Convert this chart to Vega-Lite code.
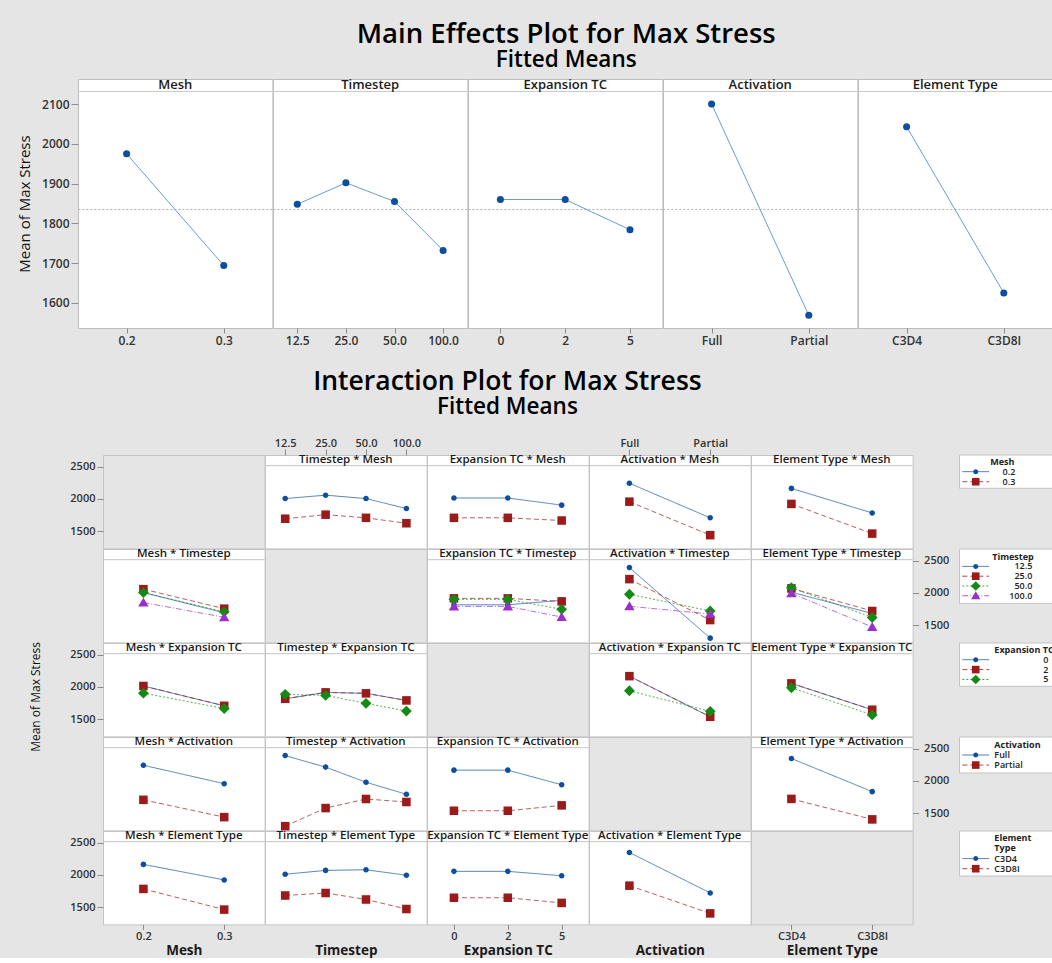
{
"$schema": "https://vega.github.io/schema/vega-lite/v6.json",
"background": "#e5e5e5",
"padding": {"left": 17, "top": 20, "right": 0, "bottom": 0},
"spacing": 21,
"columns": 1,
"align": "none",
"config": {"font": "Open Sans", "view": {"stroke": "#c4c4c4"}, "concat": {"spacing": 0}},
"datasets": {
"main": [
{"factor":"Mesh","level":"0.2","mean":1975},{"factor":"Mesh","level":"0.3","mean":1694},
{"factor":"Timestep","level":"12.5","mean":1848},{"factor":"Timestep","level":"25.0","mean":1902},{"factor":"Timestep","level":"50.0","mean":1855},{"factor":"Timestep","level":"100.0","mean":1732},
{"factor":"Expansion TC","level":"0","mean":1860},{"factor":"Expansion TC","level":"2","mean":1860},{"factor":"Expansion TC","level":"5","mean":1784},
{"factor":"Activation","level":"Full","mean":2100},{"factor":"Activation","level":"Partial","mean":1569},
{"factor":"Element Type","level":"C3D4","mean":2043},{"factor":"Element Type","level":"C3D8I","mean":1625}],
"twoway": [
{"pair":"MT","a":"0.2","b":"12.5","mean":2005},{"pair":"MT","a":"0.2","b":"25.0","mean":2058},{"pair":"MT","a":"0.2","b":"50.0","mean":2005},{"pair":"MT","a":"0.2","b":"100.0","mean":1850},
{"pair":"MT","a":"0.3","b":"12.5","mean":1692},{"pair":"MT","a":"0.3","b":"25.0","mean":1755},{"pair":"MT","a":"0.3","b":"50.0","mean":1706},{"pair":"MT","a":"0.3","b":"100.0","mean":1622},
{"pair":"ME","a":"0.2","b":"0","mean":2014},{"pair":"ME","a":"0.2","b":"2","mean":2014},{"pair":"ME","a":"0.2","b":"5","mean":1903},
{"pair":"ME","a":"0.3","b":"0","mean":1706},{"pair":"ME","a":"0.3","b":"2","mean":1706},{"pair":"ME","a":"0.3","b":"5","mean":1664},
{"pair":"MA","a":"0.2","b":"Full","mean":2243},{"pair":"MA","a":"0.2","b":"Partial","mean":1706},
{"pair":"MA","a":"0.3","b":"Full","mean":1957},{"pair":"MA","a":"0.3","b":"Partial","mean":1437},
{"pair":"MX","a":"0.2","b":"C3D4","mean":2163},{"pair":"MX","a":"0.2","b":"C3D8I","mean":1782},
{"pair":"MX","a":"0.3","b":"C3D4","mean":1922},{"pair":"MX","a":"0.3","b":"C3D8I","mean":1461},
{"pair":"TE","a":"12.5","b":"0","mean":1815},{"pair":"TE","a":"12.5","b":"2","mean":1815},{"pair":"TE","a":"12.5","b":"5","mean":1885},
{"pair":"TE","a":"25.0","b":"0","mean":1915},{"pair":"TE","a":"25.0","b":"2","mean":1915},{"pair":"TE","a":"25.0","b":"5","mean":1868},
{"pair":"TE","a":"50.0","b":"0","mean":1900},{"pair":"TE","a":"50.0","b":"2","mean":1900},{"pair":"TE","a":"50.0","b":"5","mean":1745},
{"pair":"TE","a":"100.0","b":"0","mean":1790},{"pair":"TE","a":"100.0","b":"2","mean":1790},{"pair":"TE","a":"100.0","b":"5","mean":1625},
{"pair":"TA","a":"12.5","b":"Full","mean":2393},{"pair":"TA","a":"12.5","b":"Partial","mean":1297},
{"pair":"TA","a":"25.0","b":"Full","mean":2214},{"pair":"TA","a":"25.0","b":"Partial","mean":1578},
{"pair":"TA","a":"50.0","b":"Full","mean":1979},{"pair":"TA","a":"50.0","b":"Partial","mean":1719},
{"pair":"TA","a":"100.0","b":"Full","mean":1792},{"pair":"TA","a":"100.0","b":"Partial","mean":1672},
{"pair":"TX","a":"12.5","b":"C3D4","mean":2010},{"pair":"TX","a":"12.5","b":"C3D8I","mean":1680},
{"pair":"TX","a":"25.0","b":"C3D4","mean":2070},{"pair":"TX","a":"25.0","b":"C3D8I","mean":1719},
{"pair":"TX","a":"50.0","b":"C3D4","mean":2080},{"pair":"TX","a":"50.0","b":"C3D8I","mean":1618},
{"pair":"TX","a":"100.0","b":"C3D4","mean":1995},{"pair":"TX","a":"100.0","b":"C3D8I","mean":1470},
{"pair":"EA","a":"0","b":"Full","mean":2167},{"pair":"EA","a":"0","b":"Partial","mean":1536},
{"pair":"EA","a":"2","b":"Full","mean":2167},{"pair":"EA","a":"2","b":"Partial","mean":1536},
{"pair":"EA","a":"5","b":"Full","mean":1940},{"pair":"EA","a":"5","b":"Partial","mean":1620},
{"pair":"EX","a":"0","b":"C3D4","mean":2055},{"pair":"EX","a":"0","b":"C3D8I","mean":1645},
{"pair":"EX","a":"2","b":"C3D4","mean":2055},{"pair":"EX","a":"2","b":"C3D8I","mean":1645},
{"pair":"EX","a":"5","b":"C3D4","mean":1987},{"pair":"EX","a":"5","b":"C3D8I","mean":1565},
{"pair":"AX","a":"Full","b":"C3D4","mean":2348},{"pair":"AX","a":"Full","b":"C3D8I","mean":1833},
{"pair":"AX","a":"Partial","b":"C3D4","mean":1720},{"pair":"AX","a":"Partial","b":"C3D8I","mean":1402}
]},
"concat": [
{
"title": {"text": "Main Effects Plot for Max Stress", "subtitle": "Fitted Means", "fontSize": 27.5, "fontWeight": 600, "subtitleFontSize": 22.5, "subtitleFontWeight": 600, "color": "#000", "subtitleColor": "#000", "anchor": "middle", "offset": 7, "subtitlePadding": 1, "dx": 31},
"bounds": "flush",
"hconcat": [
{"width": 194.4, "height": 249, "view": {"fill": "white", "stroke": "#bdbdbd"}, "layer": [
 {"data": {"values": [{"label": "Mesh"}]}, "layer": [
  {"mark": {"type": "rule", "color": "#c8c8c8"}, "encoding": {"y": {"datum": 2131.7, "type": "quantitative", "scale": {"domain": [1537, 2163], "nice": false, "zero": false}, "axis": {"orient": "left", "values": [1600, 1700, 1800, 1900, 2000, 2100], "format": "d", "title": "Mean of Max Stress", "titleFontSize": 15, "titleFontWeight": "normal", "titleColor": "#111", "titlePadding": 9, "labelFontSize": 12, "labelFontWeight": 600, "labelColor": "#333", "tickSize": 7, "tickColor": "#8c8c8c", "labelPadding": 2, "domain": false, "grid": false}}}},
  {"mark": {"type": "text", "fontSize": 13, "fontWeight": 600, "color": "#1a1a1a"}, "encoding": {"y": {"datum": 2147.5, "type": "quantitative", "scale": {"domain": [1537, 2163], "nice": false, "zero": false}, "axis": {"orient": "left", "values": [1600, 1700, 1800, 1900, 2000, 2100], "format": "d", "title": "Mean of Max Stress", "titleFontSize": 15, "titleFontWeight": "normal", "titleColor": "#111", "titlePadding": 9, "labelFontSize": 12, "labelFontWeight": 600, "labelColor": "#333", "tickSize": 7, "tickColor": "#8c8c8c", "labelPadding": 2, "domain": false, "grid": false}}, "text": {"field": "label"}}}]},
 {"data": {"values": [{"grand": 1835}]}, "mark": {"type": "rule", "color": "#b0b0b0", "strokeDash": [2, 2]}, "encoding": {"y": {"field": "grand", "type": "quantitative", "scale": {"domain": [1537, 2163], "nice": false, "zero": false}, "axis": {"orient": "left", "values": [1600, 1700, 1800, 1900, 2000, 2100], "format": "d", "title": "Mean of Max Stress", "titleFontSize": 15, "titleFontWeight": "normal", "titleColor": "#111", "titlePadding": 9, "labelFontSize": 12, "labelFontWeight": 600, "labelColor": "#333", "tickSize": 7, "tickColor": "#8c8c8c", "labelPadding": 2, "domain": false, "grid": false}}}},
 {"data": {"name": "main"}, "transform": [{"filter": "datum.factor === 'Mesh'"}],
  "encoding": {"x": {"field": "level", "type": "ordinal", "scale": {"type": "point", "domain": ["0.2", "0.3"], "padding": 0.5}, "axis": {"orient": "bottom", "title": null, "labelAngle": 0, "labelFontSize": 12, "labelFontWeight": 600, "labelColor": "#333", "tickSize": 5, "tickColor": "#8c8c8c", "labelPadding": 2, "domain": false, "grid": false}},
   "y": {"field": "mean", "type": "quantitative", "scale": {"domain": [1537, 2163], "nice": false, "zero": false}, "axis": {"orient": "left", "values": [1600, 1700, 1800, 1900, 2000, 2100], "format": "d", "title": "Mean of Max Stress", "titleFontSize": 15, "titleFontWeight": "normal", "titleColor": "#111", "titlePadding": 9, "labelFontSize": 12, "labelFontWeight": 600, "labelColor": "#333", "tickSize": 7, "tickColor": "#8c8c8c", "labelPadding": 2, "domain": false, "grid": false}}},
  "layer": [{"mark": {"type": "line", "color": "#6a9bd6", "strokeWidth": 1}, "encoding": {"order": {"value": null}}}, {"mark": {"type": "point", "filled": true, "color": "#0b4f9e", "size": 50, "opacity": 1}}]}
]},
{"width": 194.4, "height": 249, "view": {"fill": "white", "stroke": "#bdbdbd"}, "layer": [
 {"data": {"values": [{"label": "Timestep"}]}, "layer": [
  {"mark": {"type": "rule", "color": "#c8c8c8"}, "encoding": {"y": {"datum": 2131.7, "type": "quantitative", "scale": {"domain": [1537, 2163], "nice": false, "zero": false}, "axis": null}}},
  {"mark": {"type": "text", "fontSize": 13, "fontWeight": 600, "color": "#1a1a1a"}, "encoding": {"y": {"datum": 2147.5, "type": "quantitative", "scale": {"domain": [1537, 2163], "nice": false, "zero": false}, "axis": null}, "text": {"field": "label"}}}]},
 {"data": {"values": [{"grand": 1835}]}, "mark": {"type": "rule", "color": "#b0b0b0", "strokeDash": [2, 2]}, "encoding": {"y": {"field": "grand", "type": "quantitative", "scale": {"domain": [1537, 2163], "nice": false, "zero": false}, "axis": null}}},
 {"data": {"name": "main"}, "transform": [{"filter": "datum.factor === 'Timestep'"}],
  "encoding": {"x": {"field": "level", "type": "ordinal", "scale": {"type": "point", "domain": ["12.5", "25.0", "50.0", "100.0"], "padding": 0.5}, "axis": {"orient": "bottom", "title": null, "labelAngle": 0, "labelFontSize": 12, "labelFontWeight": 600, "labelColor": "#333", "tickSize": 5, "tickColor": "#8c8c8c", "labelPadding": 2, "domain": false, "grid": false}},
   "y": {"field": "mean", "type": "quantitative", "scale": {"domain": [1537, 2163], "nice": false, "zero": false}, "axis": null}},
  "layer": [{"mark": {"type": "line", "color": "#6a9bd6", "strokeWidth": 1}, "encoding": {"order": {"value": null}}}, {"mark": {"type": "point", "filled": true, "color": "#0b4f9e", "size": 50, "opacity": 1}}]}
]},
{"width": 194.4, "height": 249, "view": {"fill": "white", "stroke": "#bdbdbd"}, "layer": [
 {"data": {"values": [{"label": "Expansion TC"}]}, "layer": [
  {"mark": {"type": "rule", "color": "#c8c8c8"}, "encoding": {"y": {"datum": 2131.7, "type": "quantitative", "scale": {"domain": [1537, 2163], "nice": false, "zero": false}, "axis": null}}},
  {"mark": {"type": "text", "fontSize": 13, "fontWeight": 600, "color": "#1a1a1a"}, "encoding": {"y": {"datum": 2147.5, "type": "quantitative", "scale": {"domain": [1537, 2163], "nice": false, "zero": false}, "axis": null}, "text": {"field": "label"}}}]},
 {"data": {"values": [{"grand": 1835}]}, "mark": {"type": "rule", "color": "#b0b0b0", "strokeDash": [2, 2]}, "encoding": {"y": {"field": "grand", "type": "quantitative", "scale": {"domain": [1537, 2163], "nice": false, "zero": false}, "axis": null}}},
 {"data": {"name": "main"}, "transform": [{"filter": "datum.factor === 'Expansion TC'"}],
  "encoding": {"x": {"field": "level", "type": "ordinal", "scale": {"type": "point", "domain": ["0", "2", "5"], "padding": 0.5}, "axis": {"orient": "bottom", "title": null, "labelAngle": 0, "labelFontSize": 12, "labelFontWeight": 600, "labelColor": "#333", "tickSize": 5, "tickColor": "#8c8c8c", "labelPadding": 2, "domain": false, "grid": false}},
   "y": {"field": "mean", "type": "quantitative", "scale": {"domain": [1537, 2163], "nice": false, "zero": false}, "axis": null}},
  "layer": [{"mark": {"type": "line", "color": "#6a9bd6", "strokeWidth": 1}, "encoding": {"order": {"value": null}}}, {"mark": {"type": "point", "filled": true, "color": "#0b4f9e", "size": 50, "opacity": 1}}]}
]},
{"width": 194.4, "height": 249, "view": {"fill": "white", "stroke": "#bdbdbd"}, "layer": [
 {"data": {"values": [{"label": "Activation"}]}, "layer": [
  {"mark": {"type": "rule", "color": "#c8c8c8"}, "encoding": {"y": {"datum": 2131.7, "type": "quantitative", "scale": {"domain": [1537, 2163], "nice": false, "zero": false}, "axis": null}}},
  {"mark": {"type": "text", "fontSize": 13, "fontWeight": 600, "color": "#1a1a1a"}, "encoding": {"y": {"datum": 2147.5, "type": "quantitative", "scale": {"domain": [1537, 2163], "nice": false, "zero": false}, "axis": null}, "text": {"field": "label"}}}]},
 {"data": {"values": [{"grand": 1835}]}, "mark": {"type": "rule", "color": "#b0b0b0", "strokeDash": [2, 2]}, "encoding": {"y": {"field": "grand", "type": "quantitative", "scale": {"domain": [1537, 2163], "nice": false, "zero": false}, "axis": null}}},
 {"data": {"name": "main"}, "transform": [{"filter": "datum.factor === 'Activation'"}],
  "encoding": {"x": {"field": "level", "type": "ordinal", "scale": {"type": "point", "domain": ["Full", "Partial"], "padding": 0.5}, "axis": {"orient": "bottom", "title": null, "labelAngle": 0, "labelFontSize": 12, "labelFontWeight": 600, "labelColor": "#333", "tickSize": 5, "tickColor": "#8c8c8c", "labelPadding": 2, "domain": false, "grid": false}},
   "y": {"field": "mean", "type": "quantitative", "scale": {"domain": [1537, 2163], "nice": false, "zero": false}, "axis": null}},
  "layer": [{"mark": {"type": "line", "color": "#6a9bd6", "strokeWidth": 1}, "encoding": {"order": {"value": null}}}, {"mark": {"type": "point", "filled": true, "color": "#0b4f9e", "size": 50, "opacity": 1}}]}
]},
{"width": 194.4, "height": 249, "view": {"fill": "white", "stroke": "#bdbdbd"}, "layer": [
 {"data": {"values": [{"label": "Element Type"}]}, "layer": [
  {"mark": {"type": "rule", "color": "#c8c8c8"}, "encoding": {"y": {"datum": 2131.7, "type": "quantitative", "scale": {"domain": [1537, 2163], "nice": false, "zero": false}, "axis": null}}},
  {"mark": {"type": "text", "fontSize": 13, "fontWeight": 600, "color": "#1a1a1a"}, "encoding": {"y": {"datum": 2147.5, "type": "quantitative", "scale": {"domain": [1537, 2163], "nice": false, "zero": false}, "axis": null}, "text": {"field": "label"}}}]},
 {"data": {"values": [{"grand": 1835}]}, "mark": {"type": "rule", "color": "#b0b0b0", "strokeDash": [2, 2]}, "encoding": {"y": {"field": "grand", "type": "quantitative", "scale": {"domain": [1537, 2163], "nice": false, "zero": false}, "axis": null}}},
 {"data": {"name": "main"}, "transform": [{"filter": "datum.factor === 'Element Type'"}],
  "encoding": {"x": {"field": "level", "type": "ordinal", "scale": {"type": "point", "domain": ["C3D4", "C3D8I"], "padding": 0.5}, "axis": {"orient": "bottom", "title": null, "labelAngle": 0, "labelFontSize": 12, "labelFontWeight": 600, "labelColor": "#333", "tickSize": 5, "tickColor": "#8c8c8c", "labelPadding": 2, "domain": false, "grid": false}},
   "y": {"field": "mean", "type": "quantitative", "scale": {"domain": [1537, 2163], "nice": false, "zero": false}, "axis": null}},
  "layer": [{"mark": {"type": "line", "color": "#6a9bd6", "strokeWidth": 1}, "encoding": {"order": {"value": null}}}, {"mark": {"type": "point", "filled": true, "color": "#0b4f9e", "size": 50, "opacity": 1}}]}
]}
]
},
{
"title": {"text": "Interaction Plot for Max Stress", "subtitle": "Fitted Means", "fontSize": 26.5, "fontWeight": 600, "subtitleFontSize": 22.5, "subtitleFontWeight": 600, "color": "#000", "subtitleColor": "#000", "anchor": "middle", "offset": 18, "subtitlePadding": 1, "dx": -35},
"vconcat": [
{
"title": {"text": "Mean of Max Stress", "orient": "left", "fontSize": 12, "fontWeight": "normal", "color": "#111", "anchor": "middle", "offset": 26},
"columns": 7,
"align": "each",
"bounds": "flush",
"spacing": 0,
"concat": [
{"width": 24.7, "height": 1, "data": {"values": []}, "mark": {"type": "point", "opacity": 0}, "view": {"stroke": null}},
{"width": 161.6, "height": 93.4, "view": {"fill": "#e5e5e5", "stroke": "#c4c4c4"}, "data": {"values": []}, "mark": {"type": "point", "opacity": 0}, "encoding": {"y": {"field": "mean", "type": "quantitative", "scale": {"domain": [1231, 2682], "nice": false, "zero": false}, "axis": {"orient": "left", "values": [1500, 2000, 2500], "format": "d", "title": null, "labelFontSize": 11, "labelFontWeight": 600, "labelColor": "#333", "tickSize": 6, "tickColor": "#8c8c8c", "labelPadding": 2, "domain": false, "grid": false}}}},
{"width": 161.6, "height": 93.4, "view": {"fill": "white", "stroke": "#c4c4c4"}, "layer": [
 {"data": {"values": [{"label": "Timestep * Mesh"}]}, "layer": [
  {"mark": {"type": "rule", "color": "#c4c4c4"}, "encoding": {"y": {"datum": 2516, "type": "quantitative", "scale": {"domain": [1231, 2682], "nice": false, "zero": false}, "axis": null}}},
  {"mark": {"type": "text", "fontSize": 11.5, "fontWeight": 600, "color": "#1a1a1a"}, "encoding": {"y": {"datum": 2599, "type": "quantitative", "scale": {"domain": [1231, 2682], "nice": false, "zero": false}, "axis": null}, "text": {"field": "label"}}}]},
 {"data": {"name": "twoway"}, "transform": [{"filter": "datum.pair === 'MT'"}],
  "encoding": {"x": {"field": "b", "type": "ordinal", "scale": {"type": "point", "domain": ["12.5", "25.0", "50.0", "100.0"], "padding": 0.5}, "axis": {"orient": "top", "title": null, "labelAngle": 0, "labelFontSize": 11, "labelFontWeight": 600, "labelColor": "#333", "tickSize": 6, "tickColor": "#8c8c8c", "labelPadding": 1, "domain": false, "grid": false}},
   "y": {"field": "mean", "type": "quantitative", "scale": {"domain": [1231, 2682], "nice": false, "zero": false}, "axis": null},
   "color": {"field": "a", "type": "nominal", "legend": null, "scale": {"domain": ["0.2","0.3","12.5","25.0","50.0","100.0","0","2","5","Full","Partial","C3D4","C3D8I"], "range": ["#0b4f9e","#9b1b1b","#0b4f9e","#9b1b1b","#138a13","#9b30c8","#0b4f9e","#9b1b1b","#138a13","#0b4f9e","#9b1b1b","#0b4f9e","#9b1b1b"]}}},
  "layer": [
   {"mark": {"type": "line", "strokeWidth": 1, "opacity": 0.7}, "encoding": {"strokeDash": {"field": "a", "type": "nominal", "legend": null, "scale": {"domain": ["0.2","0.3","12.5","25.0","50.0","100.0","0","2","5","Full","Partial","C3D4","C3D8I"], "range": [[1,0],[5,3],[1,0],[5,3],[2,2],[6,2,1,2],[1,0],[5,3],[2,2],[1,0],[5,3],[1,0],[5,3]]}}, "order": {"value": null}}},
   {"mark": {"type": "point", "filled": true, "size": 81, "opacity": 1}, "encoding": {"shape": {"field": "a", "type": "nominal", "legend": null, "scale": {"domain": ["0.2","0.3","12.5","25.0","50.0","100.0","0","2","5","Full","Partial","C3D4","C3D8I"], "range": ["M0.62,0A0.62,0.62 0 1,1 -0.62,0A0.62,0.62 0 1,1 0.62,0Z","M-0.95,-0.95H0.95V0.95H-0.95Z","M0.62,0A0.62,0.62 0 1,1 -0.62,0A0.62,0.62 0 1,1 0.62,0Z","M-0.95,-0.95H0.95V0.95H-0.95Z","M0,-1.2L1.2,0L0,1.2L-1.2,0Z","M0,-1.1L1.15,0.9H-1.15Z","M0.62,0A0.62,0.62 0 1,1 -0.62,0A0.62,0.62 0 1,1 0.62,0Z","M-0.95,-0.95H0.95V0.95H-0.95Z","M0,-1.2L1.2,0L0,1.2L-1.2,0Z","M0.62,0A0.62,0.62 0 1,1 -0.62,0A0.62,0.62 0 1,1 0.62,0Z","M-0.95,-0.95H0.95V0.95H-0.95Z","M0.62,0A0.62,0.62 0 1,1 -0.62,0A0.62,0.62 0 1,1 0.62,0Z","M-0.95,-0.95H0.95V0.95H-0.95Z"]}}}}]}
]},
{"width": 161.6, "height": 93.4, "view": {"fill": "white", "stroke": "#c4c4c4"}, "layer": [
 {"data": {"values": [{"label": "Expansion TC * Mesh"}]}, "layer": [
  {"mark": {"type": "rule", "color": "#c4c4c4"}, "encoding": {"y": {"datum": 2516, "type": "quantitative", "scale": {"domain": [1231, 2682], "nice": false, "zero": false}, "axis": null}}},
  {"mark": {"type": "text", "fontSize": 11.5, "fontWeight": 600, "color": "#1a1a1a"}, "encoding": {"y": {"datum": 2599, "type": "quantitative", "scale": {"domain": [1231, 2682], "nice": false, "zero": false}, "axis": null}, "text": {"field": "label"}}}]},
 {"data": {"name": "twoway"}, "transform": [{"filter": "datum.pair === 'ME'"}],
  "encoding": {"x": {"field": "b", "type": "ordinal", "scale": {"type": "point", "domain": ["0", "2", "5"], "padding": 0.5}, "axis": null},
   "y": {"field": "mean", "type": "quantitative", "scale": {"domain": [1231, 2682], "nice": false, "zero": false}, "axis": null},
   "color": {"field": "a", "type": "nominal", "legend": null, "scale": {"domain": ["0.2","0.3","12.5","25.0","50.0","100.0","0","2","5","Full","Partial","C3D4","C3D8I"], "range": ["#0b4f9e","#9b1b1b","#0b4f9e","#9b1b1b","#138a13","#9b30c8","#0b4f9e","#9b1b1b","#138a13","#0b4f9e","#9b1b1b","#0b4f9e","#9b1b1b"]}}},
  "layer": [
   {"mark": {"type": "line", "strokeWidth": 1, "opacity": 0.7}, "encoding": {"strokeDash": {"field": "a", "type": "nominal", "legend": null, "scale": {"domain": ["0.2","0.3","12.5","25.0","50.0","100.0","0","2","5","Full","Partial","C3D4","C3D8I"], "range": [[1,0],[5,3],[1,0],[5,3],[2,2],[6,2,1,2],[1,0],[5,3],[2,2],[1,0],[5,3],[1,0],[5,3]]}}, "order": {"value": null}}},
   {"mark": {"type": "point", "filled": true, "size": 81, "opacity": 1}, "encoding": {"shape": {"field": "a", "type": "nominal", "legend": null, "scale": {"domain": ["0.2","0.3","12.5","25.0","50.0","100.0","0","2","5","Full","Partial","C3D4","C3D8I"], "range": ["M0.62,0A0.62,0.62 0 1,1 -0.62,0A0.62,0.62 0 1,1 0.62,0Z","M-0.95,-0.95H0.95V0.95H-0.95Z","M0.62,0A0.62,0.62 0 1,1 -0.62,0A0.62,0.62 0 1,1 0.62,0Z","M-0.95,-0.95H0.95V0.95H-0.95Z","M0,-1.2L1.2,0L0,1.2L-1.2,0Z","M0,-1.1L1.15,0.9H-1.15Z","M0.62,0A0.62,0.62 0 1,1 -0.62,0A0.62,0.62 0 1,1 0.62,0Z","M-0.95,-0.95H0.95V0.95H-0.95Z","M0,-1.2L1.2,0L0,1.2L-1.2,0Z","M0.62,0A0.62,0.62 0 1,1 -0.62,0A0.62,0.62 0 1,1 0.62,0Z","M-0.95,-0.95H0.95V0.95H-0.95Z","M0.62,0A0.62,0.62 0 1,1 -0.62,0A0.62,0.62 0 1,1 0.62,0Z","M-0.95,-0.95H0.95V0.95H-0.95Z"]}}}}]}
]},
{"width": 161.6, "height": 93.4, "view": {"fill": "white", "stroke": "#c4c4c4"}, "layer": [
 {"data": {"values": [{"label": "Activation * Mesh"}]}, "layer": [
  {"mark": {"type": "rule", "color": "#c4c4c4"}, "encoding": {"y": {"datum": 2516, "type": "quantitative", "scale": {"domain": [1231, 2682], "nice": false, "zero": false}, "axis": null}}},
  {"mark": {"type": "text", "fontSize": 11.5, "fontWeight": 600, "color": "#1a1a1a"}, "encoding": {"y": {"datum": 2599, "type": "quantitative", "scale": {"domain": [1231, 2682], "nice": false, "zero": false}, "axis": null}, "text": {"field": "label"}}}]},
 {"data": {"name": "twoway"}, "transform": [{"filter": "datum.pair === 'MA'"}],
  "encoding": {"x": {"field": "b", "type": "ordinal", "scale": {"type": "point", "domain": ["Full", "Partial"], "padding": 0.5}, "axis": {"orient": "top", "title": null, "labelAngle": 0, "labelFontSize": 11, "labelFontWeight": 600, "labelColor": "#333", "tickSize": 6, "tickColor": "#8c8c8c", "labelPadding": 1, "domain": false, "grid": false}},
   "y": {"field": "mean", "type": "quantitative", "scale": {"domain": [1231, 2682], "nice": false, "zero": false}, "axis": null},
   "color": {"field": "a", "type": "nominal", "legend": null, "scale": {"domain": ["0.2","0.3","12.5","25.0","50.0","100.0","0","2","5","Full","Partial","C3D4","C3D8I"], "range": ["#0b4f9e","#9b1b1b","#0b4f9e","#9b1b1b","#138a13","#9b30c8","#0b4f9e","#9b1b1b","#138a13","#0b4f9e","#9b1b1b","#0b4f9e","#9b1b1b"]}}},
  "layer": [
   {"mark": {"type": "line", "strokeWidth": 1, "opacity": 0.7}, "encoding": {"strokeDash": {"field": "a", "type": "nominal", "legend": null, "scale": {"domain": ["0.2","0.3","12.5","25.0","50.0","100.0","0","2","5","Full","Partial","C3D4","C3D8I"], "range": [[1,0],[5,3],[1,0],[5,3],[2,2],[6,2,1,2],[1,0],[5,3],[2,2],[1,0],[5,3],[1,0],[5,3]]}}, "order": {"value": null}}},
   {"mark": {"type": "point", "filled": true, "size": 81, "opacity": 1}, "encoding": {"shape": {"field": "a", "type": "nominal", "legend": null, "scale": {"domain": ["0.2","0.3","12.5","25.0","50.0","100.0","0","2","5","Full","Partial","C3D4","C3D8I"], "range": ["M0.62,0A0.62,0.62 0 1,1 -0.62,0A0.62,0.62 0 1,1 0.62,0Z","M-0.95,-0.95H0.95V0.95H-0.95Z","M0.62,0A0.62,0.62 0 1,1 -0.62,0A0.62,0.62 0 1,1 0.62,0Z","M-0.95,-0.95H0.95V0.95H-0.95Z","M0,-1.2L1.2,0L0,1.2L-1.2,0Z","M0,-1.1L1.15,0.9H-1.15Z","M0.62,0A0.62,0.62 0 1,1 -0.62,0A0.62,0.62 0 1,1 0.62,0Z","M-0.95,-0.95H0.95V0.95H-0.95Z","M0,-1.2L1.2,0L0,1.2L-1.2,0Z","M0.62,0A0.62,0.62 0 1,1 -0.62,0A0.62,0.62 0 1,1 0.62,0Z","M-0.95,-0.95H0.95V0.95H-0.95Z","M0.62,0A0.62,0.62 0 1,1 -0.62,0A0.62,0.62 0 1,1 0.62,0Z","M-0.95,-0.95H0.95V0.95H-0.95Z"]}}}}]}
]},
{"width": 161.6, "height": 93.4, "view": {"fill": "white", "stroke": "#c4c4c4"}, "layer": [
 {"data": {"values": [{"label": "Element Type * Mesh"}]}, "layer": [
  {"mark": {"type": "rule", "color": "#c4c4c4"}, "encoding": {"y": {"datum": 2516, "type": "quantitative", "scale": {"domain": [1231, 2682], "nice": false, "zero": false}, "axis": null}}},
  {"mark": {"type": "text", "fontSize": 11.5, "fontWeight": 600, "color": "#1a1a1a"}, "encoding": {"y": {"datum": 2599, "type": "quantitative", "scale": {"domain": [1231, 2682], "nice": false, "zero": false}, "axis": null}, "text": {"field": "label"}}}]},
 {"data": {"name": "twoway"}, "transform": [{"filter": "datum.pair === 'MX'"}],
  "encoding": {"x": {"field": "b", "type": "ordinal", "scale": {"type": "point", "domain": ["C3D4", "C3D8I"], "padding": 0.5}, "axis": null},
   "y": {"field": "mean", "type": "quantitative", "scale": {"domain": [1231, 2682], "nice": false, "zero": false}, "axis": null},
   "color": {"field": "a", "type": "nominal", "legend": null, "scale": {"domain": ["0.2","0.3","12.5","25.0","50.0","100.0","0","2","5","Full","Partial","C3D4","C3D8I"], "range": ["#0b4f9e","#9b1b1b","#0b4f9e","#9b1b1b","#138a13","#9b30c8","#0b4f9e","#9b1b1b","#138a13","#0b4f9e","#9b1b1b","#0b4f9e","#9b1b1b"]}}},
  "layer": [
   {"mark": {"type": "line", "strokeWidth": 1, "opacity": 0.7}, "encoding": {"strokeDash": {"field": "a", "type": "nominal", "legend": null, "scale": {"domain": ["0.2","0.3","12.5","25.0","50.0","100.0","0","2","5","Full","Partial","C3D4","C3D8I"], "range": [[1,0],[5,3],[1,0],[5,3],[2,2],[6,2,1,2],[1,0],[5,3],[2,2],[1,0],[5,3],[1,0],[5,3]]}}, "order": {"value": null}}},
   {"mark": {"type": "point", "filled": true, "size": 81, "opacity": 1}, "encoding": {"shape": {"field": "a", "type": "nominal", "legend": null, "scale": {"domain": ["0.2","0.3","12.5","25.0","50.0","100.0","0","2","5","Full","Partial","C3D4","C3D8I"], "range": ["M0.62,0A0.62,0.62 0 1,1 -0.62,0A0.62,0.62 0 1,1 0.62,0Z","M-0.95,-0.95H0.95V0.95H-0.95Z","M0.62,0A0.62,0.62 0 1,1 -0.62,0A0.62,0.62 0 1,1 0.62,0Z","M-0.95,-0.95H0.95V0.95H-0.95Z","M0,-1.2L1.2,0L0,1.2L-1.2,0Z","M0,-1.1L1.15,0.9H-1.15Z","M0.62,0A0.62,0.62 0 1,1 -0.62,0A0.62,0.62 0 1,1 0.62,0Z","M-0.95,-0.95H0.95V0.95H-0.95Z","M0,-1.2L1.2,0L0,1.2L-1.2,0Z","M0.62,0A0.62,0.62 0 1,1 -0.62,0A0.62,0.62 0 1,1 0.62,0Z","M-0.95,-0.95H0.95V0.95H-0.95Z","M0.62,0A0.62,0.62 0 1,1 -0.62,0A0.62,0.62 0 1,1 0.62,0Z","M-0.95,-0.95H0.95V0.95H-0.95Z"]}}}}]}
]},
{"width": 141, "height": 33.3, "view": {"stroke": null}, "layer": [
 {"data": {"values": [{"box": "Mesh"}]}, "mark": {"type": "rect", "fill": "white", "stroke": "#c4c4c4", "strokeWidth": 1}, "encoding": {"x": {"datum": 0.33, "type": "quantitative", "scale": {"domain": [0, 1]}, "axis": null}, "x2": {"datum": 1}}},
 {"data": {"values": [{"level": "0.2"}, {"level": "0.3"}]}, "encoding": {"y": {"field": "level", "type": "ordinal", "scale": {"type": "point", "domain": ["Mesh", "0.2", "0.3"], "padding": 0.65}, "axis": null}},
  "layer": [
   {"mark": {"type": "rule", "strokeWidth": 1, "opacity": 0.8}, "encoding": {"x": {"datum": 0.35, "type": "quantitative", "scale": {"domain": [0, 1]}, "axis": null}, "x2": {"datum": 0.54}, "color": {"field": "level", "type": "nominal", "legend": null, "scale": {"domain": ["0.2","0.3","12.5","25.0","50.0","100.0","0","2","5","Full","Partial","C3D4","C3D8I"], "range": ["#0b4f9e","#9b1b1b","#0b4f9e","#9b1b1b","#138a13","#9b30c8","#0b4f9e","#9b1b1b","#138a13","#0b4f9e","#9b1b1b","#0b4f9e","#9b1b1b"]}}, "strokeDash": {"field": "level", "type": "nominal", "legend": null, "scale": {"domain": ["0.2","0.3","12.5","25.0","50.0","100.0","0","2","5","Full","Partial","C3D4","C3D8I"], "range": [[1,0],[5,3],[1,0],[5,3],[2,2],[6,2,1,2],[1,0],[5,3],[2,2],[1,0],[5,3],[1,0],[5,3]]}}}},
   {"mark": {"type": "point", "filled": true, "size": 64, "opacity": 1}, "encoding": {"x": {"datum": 0.445, "type": "quantitative", "scale": {"domain": [0, 1]}, "axis": null}, "color": {"field": "level", "type": "nominal", "legend": null, "scale": {"domain": ["0.2","0.3","12.5","25.0","50.0","100.0","0","2","5","Full","Partial","C3D4","C3D8I"], "range": ["#0b4f9e","#9b1b1b","#0b4f9e","#9b1b1b","#138a13","#9b30c8","#0b4f9e","#9b1b1b","#138a13","#0b4f9e","#9b1b1b","#0b4f9e","#9b1b1b"]}}, "shape": {"field": "level", "type": "nominal", "legend": null, "scale": {"domain": ["0.2","0.3","12.5","25.0","50.0","100.0","0","2","5","Full","Partial","C3D4","C3D8I"], "range": ["M0.62,0A0.62,0.62 0 1,1 -0.62,0A0.62,0.62 0 1,1 0.62,0Z","M-0.95,-0.95H0.95V0.95H-0.95Z","M0.62,0A0.62,0.62 0 1,1 -0.62,0A0.62,0.62 0 1,1 0.62,0Z","M-0.95,-0.95H0.95V0.95H-0.95Z","M0,-1.2L1.2,0L0,1.2L-1.2,0Z","M0,-1.1L1.15,0.9H-1.15Z","M0.62,0A0.62,0.62 0 1,1 -0.62,0A0.62,0.62 0 1,1 0.62,0Z","M-0.95,-0.95H0.95V0.95H-0.95Z","M0,-1.2L1.2,0L0,1.2L-1.2,0Z","M0.62,0A0.62,0.62 0 1,1 -0.62,0A0.62,0.62 0 1,1 0.62,0Z","M-0.95,-0.95H0.95V0.95H-0.95Z","M0.62,0A0.62,0.62 0 1,1 -0.62,0A0.62,0.62 0 1,1 0.62,0Z","M-0.95,-0.95H0.95V0.95H-0.95Z"]}}}},
   {"mark": {"type": "text", "align": "right", "fontSize": 9, "fontWeight": 600, "color": "#222"}, "encoding": {"x": {"datum": 0.726, "type": "quantitative", "scale": {"domain": [0, 1]}, "axis": null}, "text": {"field": "level"}}}]},
 {"data": {"values": [{"level": "Mesh"}]}, "mark": {"type": "text", "align": "center", "fontSize": 9, "fontWeight": "bold", "color": "#222"}, "encoding": {"y": {"field": "level", "type": "ordinal", "scale": {"type": "point", "domain": ["Mesh", "0.2", "0.3"], "padding": 0.65}, "axis": null}, "x": {"datum": 0.633, "type": "quantitative", "scale": {"domain": [0, 1]}, "axis": null}, "text": {"field": "level"}}}
]},

{"width": 24.7, "height": 1, "data": {"values": []}, "mark": {"type": "point", "opacity": 0}, "view": {"stroke": null}},
{"width": 161.6, "height": 93.4, "view": {"fill": "white", "stroke": "#c4c4c4"}, "layer": [
 {"data": {"values": [{"label": "Mesh * Timestep"}]}, "layer": [
  {"mark": {"type": "rule", "color": "#c4c4c4"}, "encoding": {"y": {"datum": 2516, "type": "quantitative", "scale": {"domain": [1231, 2682], "nice": false, "zero": false}, "axis": null}}},
  {"mark": {"type": "text", "fontSize": 11.5, "fontWeight": 600, "color": "#1a1a1a"}, "encoding": {"y": {"datum": 2599, "type": "quantitative", "scale": {"domain": [1231, 2682], "nice": false, "zero": false}, "axis": null}, "text": {"field": "label"}}}]},
 {"data": {"name": "twoway"}, "transform": [{"filter": "datum.pair === 'MT'"}],
  "encoding": {"x": {"field": "a", "type": "ordinal", "scale": {"type": "point", "domain": ["0.2", "0.3"], "padding": 0.5}, "axis": null},
   "y": {"field": "mean", "type": "quantitative", "scale": {"domain": [1231, 2682], "nice": false, "zero": false}, "axis": null},
   "color": {"field": "b", "type": "nominal", "legend": null, "scale": {"domain": ["0.2","0.3","12.5","25.0","50.0","100.0","0","2","5","Full","Partial","C3D4","C3D8I"], "range": ["#0b4f9e","#9b1b1b","#0b4f9e","#9b1b1b","#138a13","#9b30c8","#0b4f9e","#9b1b1b","#138a13","#0b4f9e","#9b1b1b","#0b4f9e","#9b1b1b"]}}},
  "layer": [
   {"mark": {"type": "line", "strokeWidth": 1, "opacity": 0.7}, "encoding": {"strokeDash": {"field": "b", "type": "nominal", "legend": null, "scale": {"domain": ["0.2","0.3","12.5","25.0","50.0","100.0","0","2","5","Full","Partial","C3D4","C3D8I"], "range": [[1,0],[5,3],[1,0],[5,3],[2,2],[6,2,1,2],[1,0],[5,3],[2,2],[1,0],[5,3],[1,0],[5,3]]}}, "order": {"value": null}}},
   {"mark": {"type": "point", "filled": true, "size": 81, "opacity": 1}, "encoding": {"shape": {"field": "b", "type": "nominal", "legend": null, "scale": {"domain": ["0.2","0.3","12.5","25.0","50.0","100.0","0","2","5","Full","Partial","C3D4","C3D8I"], "range": ["M0.62,0A0.62,0.62 0 1,1 -0.62,0A0.62,0.62 0 1,1 0.62,0Z","M-0.95,-0.95H0.95V0.95H-0.95Z","M0.62,0A0.62,0.62 0 1,1 -0.62,0A0.62,0.62 0 1,1 0.62,0Z","M-0.95,-0.95H0.95V0.95H-0.95Z","M0,-1.2L1.2,0L0,1.2L-1.2,0Z","M0,-1.1L1.15,0.9H-1.15Z","M0.62,0A0.62,0.62 0 1,1 -0.62,0A0.62,0.62 0 1,1 0.62,0Z","M-0.95,-0.95H0.95V0.95H-0.95Z","M0,-1.2L1.2,0L0,1.2L-1.2,0Z","M0.62,0A0.62,0.62 0 1,1 -0.62,0A0.62,0.62 0 1,1 0.62,0Z","M-0.95,-0.95H0.95V0.95H-0.95Z","M0.62,0A0.62,0.62 0 1,1 -0.62,0A0.62,0.62 0 1,1 0.62,0Z","M-0.95,-0.95H0.95V0.95H-0.95Z"]}}}}]}
]},
{"width": 161.6, "height": 93.4, "view": {"fill": "#e5e5e5", "stroke": "#c4c4c4"}, "data": {"values": []}, "mark": {"type": "point", "opacity": 0}},
{"width": 161.6, "height": 93.4, "view": {"fill": "white", "stroke": "#c4c4c4"}, "layer": [
 {"data": {"values": [{"label": "Expansion TC * Timestep"}]}, "layer": [
  {"mark": {"type": "rule", "color": "#c4c4c4"}, "encoding": {"y": {"datum": 2516, "type": "quantitative", "scale": {"domain": [1231, 2682], "nice": false, "zero": false}, "axis": null}}},
  {"mark": {"type": "text", "fontSize": 11.5, "fontWeight": 600, "color": "#1a1a1a"}, "encoding": {"y": {"datum": 2599, "type": "quantitative", "scale": {"domain": [1231, 2682], "nice": false, "zero": false}, "axis": null}, "text": {"field": "label"}}}]},
 {"data": {"name": "twoway"}, "transform": [{"filter": "datum.pair === 'TE'"}],
  "encoding": {"x": {"field": "b", "type": "ordinal", "scale": {"type": "point", "domain": ["0", "2", "5"], "padding": 0.5}, "axis": null},
   "y": {"field": "mean", "type": "quantitative", "scale": {"domain": [1231, 2682], "nice": false, "zero": false}, "axis": null},
   "color": {"field": "a", "type": "nominal", "legend": null, "scale": {"domain": ["0.2","0.3","12.5","25.0","50.0","100.0","0","2","5","Full","Partial","C3D4","C3D8I"], "range": ["#0b4f9e","#9b1b1b","#0b4f9e","#9b1b1b","#138a13","#9b30c8","#0b4f9e","#9b1b1b","#138a13","#0b4f9e","#9b1b1b","#0b4f9e","#9b1b1b"]}}},
  "layer": [
   {"mark": {"type": "line", "strokeWidth": 1, "opacity": 0.7}, "encoding": {"strokeDash": {"field": "a", "type": "nominal", "legend": null, "scale": {"domain": ["0.2","0.3","12.5","25.0","50.0","100.0","0","2","5","Full","Partial","C3D4","C3D8I"], "range": [[1,0],[5,3],[1,0],[5,3],[2,2],[6,2,1,2],[1,0],[5,3],[2,2],[1,0],[5,3],[1,0],[5,3]]}}, "order": {"value": null}}},
   {"mark": {"type": "point", "filled": true, "size": 81, "opacity": 1}, "encoding": {"shape": {"field": "a", "type": "nominal", "legend": null, "scale": {"domain": ["0.2","0.3","12.5","25.0","50.0","100.0","0","2","5","Full","Partial","C3D4","C3D8I"], "range": ["M0.62,0A0.62,0.62 0 1,1 -0.62,0A0.62,0.62 0 1,1 0.62,0Z","M-0.95,-0.95H0.95V0.95H-0.95Z","M0.62,0A0.62,0.62 0 1,1 -0.62,0A0.62,0.62 0 1,1 0.62,0Z","M-0.95,-0.95H0.95V0.95H-0.95Z","M0,-1.2L1.2,0L0,1.2L-1.2,0Z","M0,-1.1L1.15,0.9H-1.15Z","M0.62,0A0.62,0.62 0 1,1 -0.62,0A0.62,0.62 0 1,1 0.62,0Z","M-0.95,-0.95H0.95V0.95H-0.95Z","M0,-1.2L1.2,0L0,1.2L-1.2,0Z","M0.62,0A0.62,0.62 0 1,1 -0.62,0A0.62,0.62 0 1,1 0.62,0Z","M-0.95,-0.95H0.95V0.95H-0.95Z","M0.62,0A0.62,0.62 0 1,1 -0.62,0A0.62,0.62 0 1,1 0.62,0Z","M-0.95,-0.95H0.95V0.95H-0.95Z"]}}}}]}
]},
{"width": 161.6, "height": 93.4, "view": {"fill": "white", "stroke": "#c4c4c4"}, "layer": [
 {"data": {"values": [{"label": "Activation * Timestep"}]}, "layer": [
  {"mark": {"type": "rule", "color": "#c4c4c4"}, "encoding": {"y": {"datum": 2516, "type": "quantitative", "scale": {"domain": [1231, 2682], "nice": false, "zero": false}, "axis": null}}},
  {"mark": {"type": "text", "fontSize": 11.5, "fontWeight": 600, "color": "#1a1a1a"}, "encoding": {"y": {"datum": 2599, "type": "quantitative", "scale": {"domain": [1231, 2682], "nice": false, "zero": false}, "axis": null}, "text": {"field": "label"}}}]},
 {"data": {"name": "twoway"}, "transform": [{"filter": "datum.pair === 'TA'"}],
  "encoding": {"x": {"field": "b", "type": "ordinal", "scale": {"type": "point", "domain": ["Full", "Partial"], "padding": 0.5}, "axis": null},
   "y": {"field": "mean", "type": "quantitative", "scale": {"domain": [1231, 2682], "nice": false, "zero": false}, "axis": null},
   "color": {"field": "a", "type": "nominal", "legend": null, "scale": {"domain": ["0.2","0.3","12.5","25.0","50.0","100.0","0","2","5","Full","Partial","C3D4","C3D8I"], "range": ["#0b4f9e","#9b1b1b","#0b4f9e","#9b1b1b","#138a13","#9b30c8","#0b4f9e","#9b1b1b","#138a13","#0b4f9e","#9b1b1b","#0b4f9e","#9b1b1b"]}}},
  "layer": [
   {"mark": {"type": "line", "strokeWidth": 1, "opacity": 0.7}, "encoding": {"strokeDash": {"field": "a", "type": "nominal", "legend": null, "scale": {"domain": ["0.2","0.3","12.5","25.0","50.0","100.0","0","2","5","Full","Partial","C3D4","C3D8I"], "range": [[1,0],[5,3],[1,0],[5,3],[2,2],[6,2,1,2],[1,0],[5,3],[2,2],[1,0],[5,3],[1,0],[5,3]]}}, "order": {"value": null}}},
   {"mark": {"type": "point", "filled": true, "size": 81, "opacity": 1}, "encoding": {"shape": {"field": "a", "type": "nominal", "legend": null, "scale": {"domain": ["0.2","0.3","12.5","25.0","50.0","100.0","0","2","5","Full","Partial","C3D4","C3D8I"], "range": ["M0.62,0A0.62,0.62 0 1,1 -0.62,0A0.62,0.62 0 1,1 0.62,0Z","M-0.95,-0.95H0.95V0.95H-0.95Z","M0.62,0A0.62,0.62 0 1,1 -0.62,0A0.62,0.62 0 1,1 0.62,0Z","M-0.95,-0.95H0.95V0.95H-0.95Z","M0,-1.2L1.2,0L0,1.2L-1.2,0Z","M0,-1.1L1.15,0.9H-1.15Z","M0.62,0A0.62,0.62 0 1,1 -0.62,0A0.62,0.62 0 1,1 0.62,0Z","M-0.95,-0.95H0.95V0.95H-0.95Z","M0,-1.2L1.2,0L0,1.2L-1.2,0Z","M0.62,0A0.62,0.62 0 1,1 -0.62,0A0.62,0.62 0 1,1 0.62,0Z","M-0.95,-0.95H0.95V0.95H-0.95Z","M0.62,0A0.62,0.62 0 1,1 -0.62,0A0.62,0.62 0 1,1 0.62,0Z","M-0.95,-0.95H0.95V0.95H-0.95Z"]}}}}]}
]},
{"width": 161.6, "height": 93.4, "view": {"fill": "white", "stroke": "#c4c4c4"}, "layer": [
 {"data": {"values": [{"label": "Element Type * Timestep"}]}, "layer": [
  {"mark": {"type": "rule", "color": "#c4c4c4"}, "encoding": {"y": {"datum": 2516, "type": "quantitative", "scale": {"domain": [1231, 2682], "nice": false, "zero": false}, "axis": {"orient": "right", "values": [1500, 2000, 2500], "format": "d", "title": null, "labelFontSize": 11, "labelFontWeight": 600, "labelColor": "#333", "tickSize": 6, "tickColor": "#8c8c8c", "labelPadding": 5, "domain": false, "grid": false}}}},
  {"mark": {"type": "text", "fontSize": 11.5, "fontWeight": 600, "color": "#1a1a1a"}, "encoding": {"y": {"datum": 2599, "type": "quantitative", "scale": {"domain": [1231, 2682], "nice": false, "zero": false}, "axis": {"orient": "right", "values": [1500, 2000, 2500], "format": "d", "title": null, "labelFontSize": 11, "labelFontWeight": 600, "labelColor": "#333", "tickSize": 6, "tickColor": "#8c8c8c", "labelPadding": 5, "domain": false, "grid": false}}, "text": {"field": "label"}}}]},
 {"data": {"name": "twoway"}, "transform": [{"filter": "datum.pair === 'TX'"}],
  "encoding": {"x": {"field": "b", "type": "ordinal", "scale": {"type": "point", "domain": ["C3D4", "C3D8I"], "padding": 0.5}, "axis": null},
   "y": {"field": "mean", "type": "quantitative", "scale": {"domain": [1231, 2682], "nice": false, "zero": false}, "axis": {"orient": "right", "values": [1500, 2000, 2500], "format": "d", "title": null, "labelFontSize": 11, "labelFontWeight": 600, "labelColor": "#333", "tickSize": 6, "tickColor": "#8c8c8c", "labelPadding": 5, "domain": false, "grid": false}},
   "color": {"field": "a", "type": "nominal", "legend": null, "scale": {"domain": ["0.2","0.3","12.5","25.0","50.0","100.0","0","2","5","Full","Partial","C3D4","C3D8I"], "range": ["#0b4f9e","#9b1b1b","#0b4f9e","#9b1b1b","#138a13","#9b30c8","#0b4f9e","#9b1b1b","#138a13","#0b4f9e","#9b1b1b","#0b4f9e","#9b1b1b"]}}},
  "layer": [
   {"mark": {"type": "line", "strokeWidth": 1, "opacity": 0.7}, "encoding": {"strokeDash": {"field": "a", "type": "nominal", "legend": null, "scale": {"domain": ["0.2","0.3","12.5","25.0","50.0","100.0","0","2","5","Full","Partial","C3D4","C3D8I"], "range": [[1,0],[5,3],[1,0],[5,3],[2,2],[6,2,1,2],[1,0],[5,3],[2,2],[1,0],[5,3],[1,0],[5,3]]}}, "order": {"value": null}}},
   {"mark": {"type": "point", "filled": true, "size": 81, "opacity": 1}, "encoding": {"shape": {"field": "a", "type": "nominal", "legend": null, "scale": {"domain": ["0.2","0.3","12.5","25.0","50.0","100.0","0","2","5","Full","Partial","C3D4","C3D8I"], "range": ["M0.62,0A0.62,0.62 0 1,1 -0.62,0A0.62,0.62 0 1,1 0.62,0Z","M-0.95,-0.95H0.95V0.95H-0.95Z","M0.62,0A0.62,0.62 0 1,1 -0.62,0A0.62,0.62 0 1,1 0.62,0Z","M-0.95,-0.95H0.95V0.95H-0.95Z","M0,-1.2L1.2,0L0,1.2L-1.2,0Z","M0,-1.1L1.15,0.9H-1.15Z","M0.62,0A0.62,0.62 0 1,1 -0.62,0A0.62,0.62 0 1,1 0.62,0Z","M-0.95,-0.95H0.95V0.95H-0.95Z","M0,-1.2L1.2,0L0,1.2L-1.2,0Z","M0.62,0A0.62,0.62 0 1,1 -0.62,0A0.62,0.62 0 1,1 0.62,0Z","M-0.95,-0.95H0.95V0.95H-0.95Z","M0.62,0A0.62,0.62 0 1,1 -0.62,0A0.62,0.62 0 1,1 0.62,0Z","M-0.95,-0.95H0.95V0.95H-0.95Z"]}}}}]}
]},
{"width": 141, "height": 54.4, "view": {"stroke": null}, "layer": [
 {"data": {"values": [{"box": "Timestep"}]}, "mark": {"type": "rect", "fill": "white", "stroke": "#c4c4c4", "strokeWidth": 1}, "encoding": {"x": {"datum": 0.33, "type": "quantitative", "scale": {"domain": [0, 1]}, "axis": null}, "x2": {"datum": 1}}},
 {"data": {"values": [{"level": "12.5"}, {"level": "25.0"}, {"level": "50.0"}, {"level": "100.0"}]}, "encoding": {"y": {"field": "level", "type": "ordinal", "scale": {"type": "point", "domain": ["Timestep", "12.5", "25.0", "50.0", "100.0"], "padding": 0.78}, "axis": null}},
  "layer": [
   {"mark": {"type": "rule", "strokeWidth": 1, "opacity": 0.8}, "encoding": {"x": {"datum": 0.35, "type": "quantitative", "scale": {"domain": [0, 1]}, "axis": null}, "x2": {"datum": 0.54}, "color": {"field": "level", "type": "nominal", "legend": null, "scale": {"domain": ["0.2","0.3","12.5","25.0","50.0","100.0","0","2","5","Full","Partial","C3D4","C3D8I"], "range": ["#0b4f9e","#9b1b1b","#0b4f9e","#9b1b1b","#138a13","#9b30c8","#0b4f9e","#9b1b1b","#138a13","#0b4f9e","#9b1b1b","#0b4f9e","#9b1b1b"]}}, "strokeDash": {"field": "level", "type": "nominal", "legend": null, "scale": {"domain": ["0.2","0.3","12.5","25.0","50.0","100.0","0","2","5","Full","Partial","C3D4","C3D8I"], "range": [[1,0],[5,3],[1,0],[5,3],[2,2],[6,2,1,2],[1,0],[5,3],[2,2],[1,0],[5,3],[1,0],[5,3]]}}}},
   {"mark": {"type": "point", "filled": true, "size": 64, "opacity": 1}, "encoding": {"x": {"datum": 0.445, "type": "quantitative", "scale": {"domain": [0, 1]}, "axis": null}, "color": {"field": "level", "type": "nominal", "legend": null, "scale": {"domain": ["0.2","0.3","12.5","25.0","50.0","100.0","0","2","5","Full","Partial","C3D4","C3D8I"], "range": ["#0b4f9e","#9b1b1b","#0b4f9e","#9b1b1b","#138a13","#9b30c8","#0b4f9e","#9b1b1b","#138a13","#0b4f9e","#9b1b1b","#0b4f9e","#9b1b1b"]}}, "shape": {"field": "level", "type": "nominal", "legend": null, "scale": {"domain": ["0.2","0.3","12.5","25.0","50.0","100.0","0","2","5","Full","Partial","C3D4","C3D8I"], "range": ["M0.62,0A0.62,0.62 0 1,1 -0.62,0A0.62,0.62 0 1,1 0.62,0Z","M-0.95,-0.95H0.95V0.95H-0.95Z","M0.62,0A0.62,0.62 0 1,1 -0.62,0A0.62,0.62 0 1,1 0.62,0Z","M-0.95,-0.95H0.95V0.95H-0.95Z","M0,-1.2L1.2,0L0,1.2L-1.2,0Z","M0,-1.1L1.15,0.9H-1.15Z","M0.62,0A0.62,0.62 0 1,1 -0.62,0A0.62,0.62 0 1,1 0.62,0Z","M-0.95,-0.95H0.95V0.95H-0.95Z","M0,-1.2L1.2,0L0,1.2L-1.2,0Z","M0.62,0A0.62,0.62 0 1,1 -0.62,0A0.62,0.62 0 1,1 0.62,0Z","M-0.95,-0.95H0.95V0.95H-0.95Z","M0.62,0A0.62,0.62 0 1,1 -0.62,0A0.62,0.62 0 1,1 0.62,0Z","M-0.95,-0.95H0.95V0.95H-0.95Z"]}}}},
   {"mark": {"type": "text", "align": "right", "fontSize": 9, "fontWeight": 600, "color": "#222"}, "encoding": {"x": {"datum": 0.846, "type": "quantitative", "scale": {"domain": [0, 1]}, "axis": null}, "text": {"field": "level"}}}]},
 {"data": {"values": [{"level": "Timestep"}]}, "mark": {"type": "text", "align": "center", "fontSize": 9, "fontWeight": "bold", "color": "#222"}, "encoding": {"y": {"field": "level", "type": "ordinal", "scale": {"type": "point", "domain": ["Timestep", "12.5", "25.0", "50.0", "100.0"], "padding": 0.78}, "axis": null}, "x": {"datum": 0.709, "type": "quantitative", "scale": {"domain": [0, 1]}, "axis": null}, "text": {"field": "level"}}}
]},

{"width": 24.7, "height": 1, "data": {"values": []}, "mark": {"type": "point", "opacity": 0}, "view": {"stroke": null}},
{"width": 161.6, "height": 93.4, "view": {"fill": "white", "stroke": "#c4c4c4"}, "layer": [
 {"data": {"values": [{"label": "Mesh * Expansion TC"}]}, "layer": [
  {"mark": {"type": "rule", "color": "#c4c4c4"}, "encoding": {"y": {"datum": 2516, "type": "quantitative", "scale": {"domain": [1231, 2682], "nice": false, "zero": false}, "axis": {"orient": "left", "values": [1500, 2000, 2500], "format": "d", "title": null, "labelFontSize": 11, "labelFontWeight": 600, "labelColor": "#333", "tickSize": 6, "tickColor": "#8c8c8c", "labelPadding": 2, "domain": false, "grid": false}}}},
  {"mark": {"type": "text", "fontSize": 11.5, "fontWeight": 600, "color": "#1a1a1a"}, "encoding": {"y": {"datum": 2599, "type": "quantitative", "scale": {"domain": [1231, 2682], "nice": false, "zero": false}, "axis": {"orient": "left", "values": [1500, 2000, 2500], "format": "d", "title": null, "labelFontSize": 11, "labelFontWeight": 600, "labelColor": "#333", "tickSize": 6, "tickColor": "#8c8c8c", "labelPadding": 2, "domain": false, "grid": false}}, "text": {"field": "label"}}}]},
 {"data": {"name": "twoway"}, "transform": [{"filter": "datum.pair === 'ME'"}],
  "encoding": {"x": {"field": "a", "type": "ordinal", "scale": {"type": "point", "domain": ["0.2", "0.3"], "padding": 0.5}, "axis": null},
   "y": {"field": "mean", "type": "quantitative", "scale": {"domain": [1231, 2682], "nice": false, "zero": false}, "axis": {"orient": "left", "values": [1500, 2000, 2500], "format": "d", "title": null, "labelFontSize": 11, "labelFontWeight": 600, "labelColor": "#333", "tickSize": 6, "tickColor": "#8c8c8c", "labelPadding": 2, "domain": false, "grid": false}},
   "color": {"field": "b", "type": "nominal", "legend": null, "scale": {"domain": ["0.2","0.3","12.5","25.0","50.0","100.0","0","2","5","Full","Partial","C3D4","C3D8I"], "range": ["#0b4f9e","#9b1b1b","#0b4f9e","#9b1b1b","#138a13","#9b30c8","#0b4f9e","#9b1b1b","#138a13","#0b4f9e","#9b1b1b","#0b4f9e","#9b1b1b"]}}},
  "layer": [
   {"mark": {"type": "line", "strokeWidth": 1, "opacity": 0.7}, "encoding": {"strokeDash": {"field": "b", "type": "nominal", "legend": null, "scale": {"domain": ["0.2","0.3","12.5","25.0","50.0","100.0","0","2","5","Full","Partial","C3D4","C3D8I"], "range": [[1,0],[5,3],[1,0],[5,3],[2,2],[6,2,1,2],[1,0],[5,3],[2,2],[1,0],[5,3],[1,0],[5,3]]}}, "order": {"value": null}}},
   {"mark": {"type": "point", "filled": true, "size": 81, "opacity": 1}, "encoding": {"shape": {"field": "b", "type": "nominal", "legend": null, "scale": {"domain": ["0.2","0.3","12.5","25.0","50.0","100.0","0","2","5","Full","Partial","C3D4","C3D8I"], "range": ["M0.62,0A0.62,0.62 0 1,1 -0.62,0A0.62,0.62 0 1,1 0.62,0Z","M-0.95,-0.95H0.95V0.95H-0.95Z","M0.62,0A0.62,0.62 0 1,1 -0.62,0A0.62,0.62 0 1,1 0.62,0Z","M-0.95,-0.95H0.95V0.95H-0.95Z","M0,-1.2L1.2,0L0,1.2L-1.2,0Z","M0,-1.1L1.15,0.9H-1.15Z","M0.62,0A0.62,0.62 0 1,1 -0.62,0A0.62,0.62 0 1,1 0.62,0Z","M-0.95,-0.95H0.95V0.95H-0.95Z","M0,-1.2L1.2,0L0,1.2L-1.2,0Z","M0.62,0A0.62,0.62 0 1,1 -0.62,0A0.62,0.62 0 1,1 0.62,0Z","M-0.95,-0.95H0.95V0.95H-0.95Z","M0.62,0A0.62,0.62 0 1,1 -0.62,0A0.62,0.62 0 1,1 0.62,0Z","M-0.95,-0.95H0.95V0.95H-0.95Z"]}}}}]}
]},
{"width": 161.6, "height": 93.4, "view": {"fill": "white", "stroke": "#c4c4c4"}, "layer": [
 {"data": {"values": [{"label": "Timestep * Expansion TC"}]}, "layer": [
  {"mark": {"type": "rule", "color": "#c4c4c4"}, "encoding": {"y": {"datum": 2516, "type": "quantitative", "scale": {"domain": [1231, 2682], "nice": false, "zero": false}, "axis": null}}},
  {"mark": {"type": "text", "fontSize": 11.5, "fontWeight": 600, "color": "#1a1a1a"}, "encoding": {"y": {"datum": 2599, "type": "quantitative", "scale": {"domain": [1231, 2682], "nice": false, "zero": false}, "axis": null}, "text": {"field": "label"}}}]},
 {"data": {"name": "twoway"}, "transform": [{"filter": "datum.pair === 'TE'"}],
  "encoding": {"x": {"field": "a", "type": "ordinal", "scale": {"type": "point", "domain": ["12.5", "25.0", "50.0", "100.0"], "padding": 0.5}, "axis": null},
   "y": {"field": "mean", "type": "quantitative", "scale": {"domain": [1231, 2682], "nice": false, "zero": false}, "axis": null},
   "color": {"field": "b", "type": "nominal", "legend": null, "scale": {"domain": ["0.2","0.3","12.5","25.0","50.0","100.0","0","2","5","Full","Partial","C3D4","C3D8I"], "range": ["#0b4f9e","#9b1b1b","#0b4f9e","#9b1b1b","#138a13","#9b30c8","#0b4f9e","#9b1b1b","#138a13","#0b4f9e","#9b1b1b","#0b4f9e","#9b1b1b"]}}},
  "layer": [
   {"mark": {"type": "line", "strokeWidth": 1, "opacity": 0.7}, "encoding": {"strokeDash": {"field": "b", "type": "nominal", "legend": null, "scale": {"domain": ["0.2","0.3","12.5","25.0","50.0","100.0","0","2","5","Full","Partial","C3D4","C3D8I"], "range": [[1,0],[5,3],[1,0],[5,3],[2,2],[6,2,1,2],[1,0],[5,3],[2,2],[1,0],[5,3],[1,0],[5,3]]}}, "order": {"value": null}}},
   {"mark": {"type": "point", "filled": true, "size": 81, "opacity": 1}, "encoding": {"shape": {"field": "b", "type": "nominal", "legend": null, "scale": {"domain": ["0.2","0.3","12.5","25.0","50.0","100.0","0","2","5","Full","Partial","C3D4","C3D8I"], "range": ["M0.62,0A0.62,0.62 0 1,1 -0.62,0A0.62,0.62 0 1,1 0.62,0Z","M-0.95,-0.95H0.95V0.95H-0.95Z","M0.62,0A0.62,0.62 0 1,1 -0.62,0A0.62,0.62 0 1,1 0.62,0Z","M-0.95,-0.95H0.95V0.95H-0.95Z","M0,-1.2L1.2,0L0,1.2L-1.2,0Z","M0,-1.1L1.15,0.9H-1.15Z","M0.62,0A0.62,0.62 0 1,1 -0.62,0A0.62,0.62 0 1,1 0.62,0Z","M-0.95,-0.95H0.95V0.95H-0.95Z","M0,-1.2L1.2,0L0,1.2L-1.2,0Z","M0.62,0A0.62,0.62 0 1,1 -0.62,0A0.62,0.62 0 1,1 0.62,0Z","M-0.95,-0.95H0.95V0.95H-0.95Z","M0.62,0A0.62,0.62 0 1,1 -0.62,0A0.62,0.62 0 1,1 0.62,0Z","M-0.95,-0.95H0.95V0.95H-0.95Z"]}}}}]}
]},
{"width": 161.6, "height": 93.4, "view": {"fill": "#e5e5e5", "stroke": "#c4c4c4"}, "data": {"values": []}, "mark": {"type": "point", "opacity": 0}},
{"width": 161.6, "height": 93.4, "view": {"fill": "white", "stroke": "#c4c4c4"}, "layer": [
 {"data": {"values": [{"label": "Activation * Expansion TC"}]}, "layer": [
  {"mark": {"type": "rule", "color": "#c4c4c4"}, "encoding": {"y": {"datum": 2516, "type": "quantitative", "scale": {"domain": [1231, 2682], "nice": false, "zero": false}, "axis": null}}},
  {"mark": {"type": "text", "fontSize": 11.5, "fontWeight": 600, "color": "#1a1a1a"}, "encoding": {"y": {"datum": 2599, "type": "quantitative", "scale": {"domain": [1231, 2682], "nice": false, "zero": false}, "axis": null}, "text": {"field": "label"}}}]},
 {"data": {"name": "twoway"}, "transform": [{"filter": "datum.pair === 'EA'"}],
  "encoding": {"x": {"field": "b", "type": "ordinal", "scale": {"type": "point", "domain": ["Full", "Partial"], "padding": 0.5}, "axis": null},
   "y": {"field": "mean", "type": "quantitative", "scale": {"domain": [1231, 2682], "nice": false, "zero": false}, "axis": null},
   "color": {"field": "a", "type": "nominal", "legend": null, "scale": {"domain": ["0.2","0.3","12.5","25.0","50.0","100.0","0","2","5","Full","Partial","C3D4","C3D8I"], "range": ["#0b4f9e","#9b1b1b","#0b4f9e","#9b1b1b","#138a13","#9b30c8","#0b4f9e","#9b1b1b","#138a13","#0b4f9e","#9b1b1b","#0b4f9e","#9b1b1b"]}}},
  "layer": [
   {"mark": {"type": "line", "strokeWidth": 1, "opacity": 0.7}, "encoding": {"strokeDash": {"field": "a", "type": "nominal", "legend": null, "scale": {"domain": ["0.2","0.3","12.5","25.0","50.0","100.0","0","2","5","Full","Partial","C3D4","C3D8I"], "range": [[1,0],[5,3],[1,0],[5,3],[2,2],[6,2,1,2],[1,0],[5,3],[2,2],[1,0],[5,3],[1,0],[5,3]]}}, "order": {"value": null}}},
   {"mark": {"type": "point", "filled": true, "size": 81, "opacity": 1}, "encoding": {"shape": {"field": "a", "type": "nominal", "legend": null, "scale": {"domain": ["0.2","0.3","12.5","25.0","50.0","100.0","0","2","5","Full","Partial","C3D4","C3D8I"], "range": ["M0.62,0A0.62,0.62 0 1,1 -0.62,0A0.62,0.62 0 1,1 0.62,0Z","M-0.95,-0.95H0.95V0.95H-0.95Z","M0.62,0A0.62,0.62 0 1,1 -0.62,0A0.62,0.62 0 1,1 0.62,0Z","M-0.95,-0.95H0.95V0.95H-0.95Z","M0,-1.2L1.2,0L0,1.2L-1.2,0Z","M0,-1.1L1.15,0.9H-1.15Z","M0.62,0A0.62,0.62 0 1,1 -0.62,0A0.62,0.62 0 1,1 0.62,0Z","M-0.95,-0.95H0.95V0.95H-0.95Z","M0,-1.2L1.2,0L0,1.2L-1.2,0Z","M0.62,0A0.62,0.62 0 1,1 -0.62,0A0.62,0.62 0 1,1 0.62,0Z","M-0.95,-0.95H0.95V0.95H-0.95Z","M0.62,0A0.62,0.62 0 1,1 -0.62,0A0.62,0.62 0 1,1 0.62,0Z","M-0.95,-0.95H0.95V0.95H-0.95Z"]}}}}]}
]},
{"width": 161.6, "height": 93.4, "view": {"fill": "white", "stroke": "#c4c4c4"}, "layer": [
 {"data": {"values": [{"label": "Element Type * Expansion TC"}]}, "layer": [
  {"mark": {"type": "rule", "color": "#c4c4c4"}, "encoding": {"y": {"datum": 2516, "type": "quantitative", "scale": {"domain": [1231, 2682], "nice": false, "zero": false}, "axis": null}}},
  {"mark": {"type": "text", "fontSize": 11.5, "fontWeight": 600, "color": "#1a1a1a"}, "encoding": {"y": {"datum": 2599, "type": "quantitative", "scale": {"domain": [1231, 2682], "nice": false, "zero": false}, "axis": null}, "text": {"field": "label"}}}]},
 {"data": {"name": "twoway"}, "transform": [{"filter": "datum.pair === 'EX'"}],
  "encoding": {"x": {"field": "b", "type": "ordinal", "scale": {"type": "point", "domain": ["C3D4", "C3D8I"], "padding": 0.5}, "axis": null},
   "y": {"field": "mean", "type": "quantitative", "scale": {"domain": [1231, 2682], "nice": false, "zero": false}, "axis": null},
   "color": {"field": "a", "type": "nominal", "legend": null, "scale": {"domain": ["0.2","0.3","12.5","25.0","50.0","100.0","0","2","5","Full","Partial","C3D4","C3D8I"], "range": ["#0b4f9e","#9b1b1b","#0b4f9e","#9b1b1b","#138a13","#9b30c8","#0b4f9e","#9b1b1b","#138a13","#0b4f9e","#9b1b1b","#0b4f9e","#9b1b1b"]}}},
  "layer": [
   {"mark": {"type": "line", "strokeWidth": 1, "opacity": 0.7}, "encoding": {"strokeDash": {"field": "a", "type": "nominal", "legend": null, "scale": {"domain": ["0.2","0.3","12.5","25.0","50.0","100.0","0","2","5","Full","Partial","C3D4","C3D8I"], "range": [[1,0],[5,3],[1,0],[5,3],[2,2],[6,2,1,2],[1,0],[5,3],[2,2],[1,0],[5,3],[1,0],[5,3]]}}, "order": {"value": null}}},
   {"mark": {"type": "point", "filled": true, "size": 81, "opacity": 1}, "encoding": {"shape": {"field": "a", "type": "nominal", "legend": null, "scale": {"domain": ["0.2","0.3","12.5","25.0","50.0","100.0","0","2","5","Full","Partial","C3D4","C3D8I"], "range": ["M0.62,0A0.62,0.62 0 1,1 -0.62,0A0.62,0.62 0 1,1 0.62,0Z","M-0.95,-0.95H0.95V0.95H-0.95Z","M0.62,0A0.62,0.62 0 1,1 -0.62,0A0.62,0.62 0 1,1 0.62,0Z","M-0.95,-0.95H0.95V0.95H-0.95Z","M0,-1.2L1.2,0L0,1.2L-1.2,0Z","M0,-1.1L1.15,0.9H-1.15Z","M0.62,0A0.62,0.62 0 1,1 -0.62,0A0.62,0.62 0 1,1 0.62,0Z","M-0.95,-0.95H0.95V0.95H-0.95Z","M0,-1.2L1.2,0L0,1.2L-1.2,0Z","M0.62,0A0.62,0.62 0 1,1 -0.62,0A0.62,0.62 0 1,1 0.62,0Z","M-0.95,-0.95H0.95V0.95H-0.95Z","M0.62,0A0.62,0.62 0 1,1 -0.62,0A0.62,0.62 0 1,1 0.62,0Z","M-0.95,-0.95H0.95V0.95H-0.95Z"]}}}}]}
]},
{"width": 141, "height": 43.3, "view": {"stroke": null}, "layer": [
 {"data": {"values": [{"box": "Expansion TC"}]}, "mark": {"type": "rect", "fill": "white", "stroke": "#c4c4c4", "strokeWidth": 1}, "encoding": {"x": {"datum": 0.33, "type": "quantitative", "scale": {"domain": [0, 1]}, "axis": null}, "x2": {"datum": 1}}},
 {"data": {"values": [{"level": "0"}, {"level": "2"}, {"level": "5"}]}, "encoding": {"y": {"field": "level", "type": "ordinal", "scale": {"type": "point", "domain": ["Expansion TC", "0", "2", "5"], "padding": 0.69}, "axis": null}},
  "layer": [
   {"mark": {"type": "rule", "strokeWidth": 1, "opacity": 0.8}, "encoding": {"x": {"datum": 0.35, "type": "quantitative", "scale": {"domain": [0, 1]}, "axis": null}, "x2": {"datum": 0.54}, "color": {"field": "level", "type": "nominal", "legend": null, "scale": {"domain": ["0.2","0.3","12.5","25.0","50.0","100.0","0","2","5","Full","Partial","C3D4","C3D8I"], "range": ["#0b4f9e","#9b1b1b","#0b4f9e","#9b1b1b","#138a13","#9b30c8","#0b4f9e","#9b1b1b","#138a13","#0b4f9e","#9b1b1b","#0b4f9e","#9b1b1b"]}}, "strokeDash": {"field": "level", "type": "nominal", "legend": null, "scale": {"domain": ["0.2","0.3","12.5","25.0","50.0","100.0","0","2","5","Full","Partial","C3D4","C3D8I"], "range": [[1,0],[5,3],[1,0],[5,3],[2,2],[6,2,1,2],[1,0],[5,3],[2,2],[1,0],[5,3],[1,0],[5,3]]}}}},
   {"mark": {"type": "point", "filled": true, "size": 64, "opacity": 1}, "encoding": {"x": {"datum": 0.445, "type": "quantitative", "scale": {"domain": [0, 1]}, "axis": null}, "color": {"field": "level", "type": "nominal", "legend": null, "scale": {"domain": ["0.2","0.3","12.5","25.0","50.0","100.0","0","2","5","Full","Partial","C3D4","C3D8I"], "range": ["#0b4f9e","#9b1b1b","#0b4f9e","#9b1b1b","#138a13","#9b30c8","#0b4f9e","#9b1b1b","#138a13","#0b4f9e","#9b1b1b","#0b4f9e","#9b1b1b"]}}, "shape": {"field": "level", "type": "nominal", "legend": null, "scale": {"domain": ["0.2","0.3","12.5","25.0","50.0","100.0","0","2","5","Full","Partial","C3D4","C3D8I"], "range": ["M0.62,0A0.62,0.62 0 1,1 -0.62,0A0.62,0.62 0 1,1 0.62,0Z","M-0.95,-0.95H0.95V0.95H-0.95Z","M0.62,0A0.62,0.62 0 1,1 -0.62,0A0.62,0.62 0 1,1 0.62,0Z","M-0.95,-0.95H0.95V0.95H-0.95Z","M0,-1.2L1.2,0L0,1.2L-1.2,0Z","M0,-1.1L1.15,0.9H-1.15Z","M0.62,0A0.62,0.62 0 1,1 -0.62,0A0.62,0.62 0 1,1 0.62,0Z","M-0.95,-0.95H0.95V0.95H-0.95Z","M0,-1.2L1.2,0L0,1.2L-1.2,0Z","M0.62,0A0.62,0.62 0 1,1 -0.62,0A0.62,0.62 0 1,1 0.62,0Z","M-0.95,-0.95H0.95V0.95H-0.95Z","M0.62,0A0.62,0.62 0 1,1 -0.62,0A0.62,0.62 0 1,1 0.62,0Z","M-0.95,-0.95H0.95V0.95H-0.95Z"]}}}},
   {"mark": {"type": "text", "align": "right", "fontSize": 9, "fontWeight": 600, "color": "#222"}, "encoding": {"x": {"datum": 0.96, "type": "quantitative", "scale": {"domain": [0, 1]}, "axis": null}, "text": {"field": "level"}}}]},
 {"data": {"values": [{"level": "Expansion TC"}]}, "mark": {"type": "text", "align": "left", "fontSize": 9, "fontWeight": "bold", "color": "#222"}, "encoding": {"y": {"field": "level", "type": "ordinal", "scale": {"type": "point", "domain": ["Expansion TC", "0", "2", "5"], "padding": 0.69}, "axis": null}, "x": {"datum": 0.577, "type": "quantitative", "scale": {"domain": [0, 1]}, "axis": null}, "text": {"field": "level"}}}
]},

{"width": 24.7, "height": 1, "data": {"values": []}, "mark": {"type": "point", "opacity": 0}, "view": {"stroke": null}},
{"width": 161.6, "height": 93.4, "view": {"fill": "white", "stroke": "#c4c4c4"}, "layer": [
 {"data": {"values": [{"label": "Mesh * Activation"}]}, "layer": [
  {"mark": {"type": "rule", "color": "#c4c4c4"}, "encoding": {"y": {"datum": 2516, "type": "quantitative", "scale": {"domain": [1231, 2682], "nice": false, "zero": false}, "axis": null}}},
  {"mark": {"type": "text", "fontSize": 11.5, "fontWeight": 600, "color": "#1a1a1a"}, "encoding": {"y": {"datum": 2599, "type": "quantitative", "scale": {"domain": [1231, 2682], "nice": false, "zero": false}, "axis": null}, "text": {"field": "label"}}}]},
 {"data": {"name": "twoway"}, "transform": [{"filter": "datum.pair === 'MA'"}],
  "encoding": {"x": {"field": "a", "type": "ordinal", "scale": {"type": "point", "domain": ["0.2", "0.3"], "padding": 0.5}, "axis": null},
   "y": {"field": "mean", "type": "quantitative", "scale": {"domain": [1231, 2682], "nice": false, "zero": false}, "axis": null},
   "color": {"field": "b", "type": "nominal", "legend": null, "scale": {"domain": ["0.2","0.3","12.5","25.0","50.0","100.0","0","2","5","Full","Partial","C3D4","C3D8I"], "range": ["#0b4f9e","#9b1b1b","#0b4f9e","#9b1b1b","#138a13","#9b30c8","#0b4f9e","#9b1b1b","#138a13","#0b4f9e","#9b1b1b","#0b4f9e","#9b1b1b"]}}},
  "layer": [
   {"mark": {"type": "line", "strokeWidth": 1, "opacity": 0.7}, "encoding": {"strokeDash": {"field": "b", "type": "nominal", "legend": null, "scale": {"domain": ["0.2","0.3","12.5","25.0","50.0","100.0","0","2","5","Full","Partial","C3D4","C3D8I"], "range": [[1,0],[5,3],[1,0],[5,3],[2,2],[6,2,1,2],[1,0],[5,3],[2,2],[1,0],[5,3],[1,0],[5,3]]}}, "order": {"value": null}}},
   {"mark": {"type": "point", "filled": true, "size": 81, "opacity": 1}, "encoding": {"shape": {"field": "b", "type": "nominal", "legend": null, "scale": {"domain": ["0.2","0.3","12.5","25.0","50.0","100.0","0","2","5","Full","Partial","C3D4","C3D8I"], "range": ["M0.62,0A0.62,0.62 0 1,1 -0.62,0A0.62,0.62 0 1,1 0.62,0Z","M-0.95,-0.95H0.95V0.95H-0.95Z","M0.62,0A0.62,0.62 0 1,1 -0.62,0A0.62,0.62 0 1,1 0.62,0Z","M-0.95,-0.95H0.95V0.95H-0.95Z","M0,-1.2L1.2,0L0,1.2L-1.2,0Z","M0,-1.1L1.15,0.9H-1.15Z","M0.62,0A0.62,0.62 0 1,1 -0.62,0A0.62,0.62 0 1,1 0.62,0Z","M-0.95,-0.95H0.95V0.95H-0.95Z","M0,-1.2L1.2,0L0,1.2L-1.2,0Z","M0.62,0A0.62,0.62 0 1,1 -0.62,0A0.62,0.62 0 1,1 0.62,0Z","M-0.95,-0.95H0.95V0.95H-0.95Z","M0.62,0A0.62,0.62 0 1,1 -0.62,0A0.62,0.62 0 1,1 0.62,0Z","M-0.95,-0.95H0.95V0.95H-0.95Z"]}}}}]}
]},
{"width": 161.6, "height": 93.4, "view": {"fill": "white", "stroke": "#c4c4c4"}, "layer": [
 {"data": {"values": [{"label": "Timestep * Activation"}]}, "layer": [
  {"mark": {"type": "rule", "color": "#c4c4c4"}, "encoding": {"y": {"datum": 2516, "type": "quantitative", "scale": {"domain": [1231, 2682], "nice": false, "zero": false}, "axis": null}}},
  {"mark": {"type": "text", "fontSize": 11.5, "fontWeight": 600, "color": "#1a1a1a"}, "encoding": {"y": {"datum": 2599, "type": "quantitative", "scale": {"domain": [1231, 2682], "nice": false, "zero": false}, "axis": null}, "text": {"field": "label"}}}]},
 {"data": {"name": "twoway"}, "transform": [{"filter": "datum.pair === 'TA'"}],
  "encoding": {"x": {"field": "a", "type": "ordinal", "scale": {"type": "point", "domain": ["12.5", "25.0", "50.0", "100.0"], "padding": 0.5}, "axis": null},
   "y": {"field": "mean", "type": "quantitative", "scale": {"domain": [1231, 2682], "nice": false, "zero": false}, "axis": null},
   "color": {"field": "b", "type": "nominal", "legend": null, "scale": {"domain": ["0.2","0.3","12.5","25.0","50.0","100.0","0","2","5","Full","Partial","C3D4","C3D8I"], "range": ["#0b4f9e","#9b1b1b","#0b4f9e","#9b1b1b","#138a13","#9b30c8","#0b4f9e","#9b1b1b","#138a13","#0b4f9e","#9b1b1b","#0b4f9e","#9b1b1b"]}}},
  "layer": [
   {"mark": {"type": "line", "strokeWidth": 1, "opacity": 0.7}, "encoding": {"strokeDash": {"field": "b", "type": "nominal", "legend": null, "scale": {"domain": ["0.2","0.3","12.5","25.0","50.0","100.0","0","2","5","Full","Partial","C3D4","C3D8I"], "range": [[1,0],[5,3],[1,0],[5,3],[2,2],[6,2,1,2],[1,0],[5,3],[2,2],[1,0],[5,3],[1,0],[5,3]]}}, "order": {"value": null}}},
   {"mark": {"type": "point", "filled": true, "size": 81, "opacity": 1}, "encoding": {"shape": {"field": "b", "type": "nominal", "legend": null, "scale": {"domain": ["0.2","0.3","12.5","25.0","50.0","100.0","0","2","5","Full","Partial","C3D4","C3D8I"], "range": ["M0.62,0A0.62,0.62 0 1,1 -0.62,0A0.62,0.62 0 1,1 0.62,0Z","M-0.95,-0.95H0.95V0.95H-0.95Z","M0.62,0A0.62,0.62 0 1,1 -0.62,0A0.62,0.62 0 1,1 0.62,0Z","M-0.95,-0.95H0.95V0.95H-0.95Z","M0,-1.2L1.2,0L0,1.2L-1.2,0Z","M0,-1.1L1.15,0.9H-1.15Z","M0.62,0A0.62,0.62 0 1,1 -0.62,0A0.62,0.62 0 1,1 0.62,0Z","M-0.95,-0.95H0.95V0.95H-0.95Z","M0,-1.2L1.2,0L0,1.2L-1.2,0Z","M0.62,0A0.62,0.62 0 1,1 -0.62,0A0.62,0.62 0 1,1 0.62,0Z","M-0.95,-0.95H0.95V0.95H-0.95Z","M0.62,0A0.62,0.62 0 1,1 -0.62,0A0.62,0.62 0 1,1 0.62,0Z","M-0.95,-0.95H0.95V0.95H-0.95Z"]}}}}]}
]},
{"width": 161.6, "height": 93.4, "view": {"fill": "white", "stroke": "#c4c4c4"}, "layer": [
 {"data": {"values": [{"label": "Expansion TC * Activation"}]}, "layer": [
  {"mark": {"type": "rule", "color": "#c4c4c4"}, "encoding": {"y": {"datum": 2516, "type": "quantitative", "scale": {"domain": [1231, 2682], "nice": false, "zero": false}, "axis": null}}},
  {"mark": {"type": "text", "fontSize": 11.5, "fontWeight": 600, "color": "#1a1a1a"}, "encoding": {"y": {"datum": 2599, "type": "quantitative", "scale": {"domain": [1231, 2682], "nice": false, "zero": false}, "axis": null}, "text": {"field": "label"}}}]},
 {"data": {"name": "twoway"}, "transform": [{"filter": "datum.pair === 'EA'"}],
  "encoding": {"x": {"field": "a", "type": "ordinal", "scale": {"type": "point", "domain": ["0", "2", "5"], "padding": 0.5}, "axis": null},
   "y": {"field": "mean", "type": "quantitative", "scale": {"domain": [1231, 2682], "nice": false, "zero": false}, "axis": null},
   "color": {"field": "b", "type": "nominal", "legend": null, "scale": {"domain": ["0.2","0.3","12.5","25.0","50.0","100.0","0","2","5","Full","Partial","C3D4","C3D8I"], "range": ["#0b4f9e","#9b1b1b","#0b4f9e","#9b1b1b","#138a13","#9b30c8","#0b4f9e","#9b1b1b","#138a13","#0b4f9e","#9b1b1b","#0b4f9e","#9b1b1b"]}}},
  "layer": [
   {"mark": {"type": "line", "strokeWidth": 1, "opacity": 0.7}, "encoding": {"strokeDash": {"field": "b", "type": "nominal", "legend": null, "scale": {"domain": ["0.2","0.3","12.5","25.0","50.0","100.0","0","2","5","Full","Partial","C3D4","C3D8I"], "range": [[1,0],[5,3],[1,0],[5,3],[2,2],[6,2,1,2],[1,0],[5,3],[2,2],[1,0],[5,3],[1,0],[5,3]]}}, "order": {"value": null}}},
   {"mark": {"type": "point", "filled": true, "size": 81, "opacity": 1}, "encoding": {"shape": {"field": "b", "type": "nominal", "legend": null, "scale": {"domain": ["0.2","0.3","12.5","25.0","50.0","100.0","0","2","5","Full","Partial","C3D4","C3D8I"], "range": ["M0.62,0A0.62,0.62 0 1,1 -0.62,0A0.62,0.62 0 1,1 0.62,0Z","M-0.95,-0.95H0.95V0.95H-0.95Z","M0.62,0A0.62,0.62 0 1,1 -0.62,0A0.62,0.62 0 1,1 0.62,0Z","M-0.95,-0.95H0.95V0.95H-0.95Z","M0,-1.2L1.2,0L0,1.2L-1.2,0Z","M0,-1.1L1.15,0.9H-1.15Z","M0.62,0A0.62,0.62 0 1,1 -0.62,0A0.62,0.62 0 1,1 0.62,0Z","M-0.95,-0.95H0.95V0.95H-0.95Z","M0,-1.2L1.2,0L0,1.2L-1.2,0Z","M0.62,0A0.62,0.62 0 1,1 -0.62,0A0.62,0.62 0 1,1 0.62,0Z","M-0.95,-0.95H0.95V0.95H-0.95Z","M0.62,0A0.62,0.62 0 1,1 -0.62,0A0.62,0.62 0 1,1 0.62,0Z","M-0.95,-0.95H0.95V0.95H-0.95Z"]}}}}]}
]},
{"width": 161.6, "height": 93.4, "view": {"fill": "#e5e5e5", "stroke": "#c4c4c4"}, "data": {"values": []}, "mark": {"type": "point", "opacity": 0}},
{"width": 161.6, "height": 93.4, "view": {"fill": "white", "stroke": "#c4c4c4"}, "layer": [
 {"data": {"values": [{"label": "Element Type * Activation"}]}, "layer": [
  {"mark": {"type": "rule", "color": "#c4c4c4"}, "encoding": {"y": {"datum": 2516, "type": "quantitative", "scale": {"domain": [1231, 2682], "nice": false, "zero": false}, "axis": {"orient": "right", "values": [1500, 2000, 2500], "format": "d", "title": null, "labelFontSize": 11, "labelFontWeight": 600, "labelColor": "#333", "tickSize": 6, "tickColor": "#8c8c8c", "labelPadding": 5, "domain": false, "grid": false}}}},
  {"mark": {"type": "text", "fontSize": 11.5, "fontWeight": 600, "color": "#1a1a1a"}, "encoding": {"y": {"datum": 2599, "type": "quantitative", "scale": {"domain": [1231, 2682], "nice": false, "zero": false}, "axis": {"orient": "right", "values": [1500, 2000, 2500], "format": "d", "title": null, "labelFontSize": 11, "labelFontWeight": 600, "labelColor": "#333", "tickSize": 6, "tickColor": "#8c8c8c", "labelPadding": 5, "domain": false, "grid": false}}, "text": {"field": "label"}}}]},
 {"data": {"name": "twoway"}, "transform": [{"filter": "datum.pair === 'AX'"}],
  "encoding": {"x": {"field": "b", "type": "ordinal", "scale": {"type": "point", "domain": ["C3D4", "C3D8I"], "padding": 0.5}, "axis": null},
   "y": {"field": "mean", "type": "quantitative", "scale": {"domain": [1231, 2682], "nice": false, "zero": false}, "axis": {"orient": "right", "values": [1500, 2000, 2500], "format": "d", "title": null, "labelFontSize": 11, "labelFontWeight": 600, "labelColor": "#333", "tickSize": 6, "tickColor": "#8c8c8c", "labelPadding": 5, "domain": false, "grid": false}},
   "color": {"field": "a", "type": "nominal", "legend": null, "scale": {"domain": ["0.2","0.3","12.5","25.0","50.0","100.0","0","2","5","Full","Partial","C3D4","C3D8I"], "range": ["#0b4f9e","#9b1b1b","#0b4f9e","#9b1b1b","#138a13","#9b30c8","#0b4f9e","#9b1b1b","#138a13","#0b4f9e","#9b1b1b","#0b4f9e","#9b1b1b"]}}},
  "layer": [
   {"mark": {"type": "line", "strokeWidth": 1, "opacity": 0.7}, "encoding": {"strokeDash": {"field": "a", "type": "nominal", "legend": null, "scale": {"domain": ["0.2","0.3","12.5","25.0","50.0","100.0","0","2","5","Full","Partial","C3D4","C3D8I"], "range": [[1,0],[5,3],[1,0],[5,3],[2,2],[6,2,1,2],[1,0],[5,3],[2,2],[1,0],[5,3],[1,0],[5,3]]}}, "order": {"value": null}}},
   {"mark": {"type": "point", "filled": true, "size": 81, "opacity": 1}, "encoding": {"shape": {"field": "a", "type": "nominal", "legend": null, "scale": {"domain": ["0.2","0.3","12.5","25.0","50.0","100.0","0","2","5","Full","Partial","C3D4","C3D8I"], "range": ["M0.62,0A0.62,0.62 0 1,1 -0.62,0A0.62,0.62 0 1,1 0.62,0Z","M-0.95,-0.95H0.95V0.95H-0.95Z","M0.62,0A0.62,0.62 0 1,1 -0.62,0A0.62,0.62 0 1,1 0.62,0Z","M-0.95,-0.95H0.95V0.95H-0.95Z","M0,-1.2L1.2,0L0,1.2L-1.2,0Z","M0,-1.1L1.15,0.9H-1.15Z","M0.62,0A0.62,0.62 0 1,1 -0.62,0A0.62,0.62 0 1,1 0.62,0Z","M-0.95,-0.95H0.95V0.95H-0.95Z","M0,-1.2L1.2,0L0,1.2L-1.2,0Z","M0.62,0A0.62,0.62 0 1,1 -0.62,0A0.62,0.62 0 1,1 0.62,0Z","M-0.95,-0.95H0.95V0.95H-0.95Z","M0.62,0A0.62,0.62 0 1,1 -0.62,0A0.62,0.62 0 1,1 0.62,0Z","M-0.95,-0.95H0.95V0.95H-0.95Z"]}}}}]}
]},
{"width": 141, "height": 36, "view": {"stroke": null}, "layer": [
 {"data": {"values": [{"box": "Activation"}]}, "mark": {"type": "rect", "fill": "white", "stroke": "#c4c4c4", "strokeWidth": 1}, "encoding": {"x": {"datum": 0.33, "type": "quantitative", "scale": {"domain": [0, 1]}, "axis": null}, "x2": {"datum": 1}}},
 {"data": {"values": [{"level": "Full"}, {"level": "Partial"}]}, "encoding": {"y": {"field": "level", "type": "ordinal", "scale": {"type": "point", "domain": ["Activation", "Full", "Partial"], "padding": 0.79}, "axis": null}},
  "layer": [
   {"mark": {"type": "rule", "strokeWidth": 1, "opacity": 0.8}, "encoding": {"x": {"datum": 0.35, "type": "quantitative", "scale": {"domain": [0, 1]}, "axis": null}, "x2": {"datum": 0.54}, "color": {"field": "level", "type": "nominal", "legend": null, "scale": {"domain": ["0.2","0.3","12.5","25.0","50.0","100.0","0","2","5","Full","Partial","C3D4","C3D8I"], "range": ["#0b4f9e","#9b1b1b","#0b4f9e","#9b1b1b","#138a13","#9b30c8","#0b4f9e","#9b1b1b","#138a13","#0b4f9e","#9b1b1b","#0b4f9e","#9b1b1b"]}}, "strokeDash": {"field": "level", "type": "nominal", "legend": null, "scale": {"domain": ["0.2","0.3","12.5","25.0","50.0","100.0","0","2","5","Full","Partial","C3D4","C3D8I"], "range": [[1,0],[5,3],[1,0],[5,3],[2,2],[6,2,1,2],[1,0],[5,3],[2,2],[1,0],[5,3],[1,0],[5,3]]}}}},
   {"mark": {"type": "point", "filled": true, "size": 64, "opacity": 1}, "encoding": {"x": {"datum": 0.445, "type": "quantitative", "scale": {"domain": [0, 1]}, "axis": null}, "color": {"field": "level", "type": "nominal", "legend": null, "scale": {"domain": ["0.2","0.3","12.5","25.0","50.0","100.0","0","2","5","Full","Partial","C3D4","C3D8I"], "range": ["#0b4f9e","#9b1b1b","#0b4f9e","#9b1b1b","#138a13","#9b30c8","#0b4f9e","#9b1b1b","#138a13","#0b4f9e","#9b1b1b","#0b4f9e","#9b1b1b"]}}, "shape": {"field": "level", "type": "nominal", "legend": null, "scale": {"domain": ["0.2","0.3","12.5","25.0","50.0","100.0","0","2","5","Full","Partial","C3D4","C3D8I"], "range": ["M0.62,0A0.62,0.62 0 1,1 -0.62,0A0.62,0.62 0 1,1 0.62,0Z","M-0.95,-0.95H0.95V0.95H-0.95Z","M0.62,0A0.62,0.62 0 1,1 -0.62,0A0.62,0.62 0 1,1 0.62,0Z","M-0.95,-0.95H0.95V0.95H-0.95Z","M0,-1.2L1.2,0L0,1.2L-1.2,0Z","M0,-1.1L1.15,0.9H-1.15Z","M0.62,0A0.62,0.62 0 1,1 -0.62,0A0.62,0.62 0 1,1 0.62,0Z","M-0.95,-0.95H0.95V0.95H-0.95Z","M0,-1.2L1.2,0L0,1.2L-1.2,0Z","M0.62,0A0.62,0.62 0 1,1 -0.62,0A0.62,0.62 0 1,1 0.62,0Z","M-0.95,-0.95H0.95V0.95H-0.95Z","M0.62,0A0.62,0.62 0 1,1 -0.62,0A0.62,0.62 0 1,1 0.62,0Z","M-0.95,-0.95H0.95V0.95H-0.95Z"]}}}},
   {"mark": {"type": "text", "align": "left", "fontSize": 9, "fontWeight": 600, "color": "#222"}, "encoding": {"x": {"datum": 0.577, "type": "quantitative", "scale": {"domain": [0, 1]}, "axis": null}, "text": {"field": "level"}}}]},
 {"data": {"values": [{"level": "Activation"}]}, "mark": {"type": "text", "align": "left", "fontSize": 9, "fontWeight": "bold", "color": "#222"}, "encoding": {"y": {"field": "level", "type": "ordinal", "scale": {"type": "point", "domain": ["Activation", "Full", "Partial"], "padding": 0.79}, "axis": null}, "x": {"datum": 0.577, "type": "quantitative", "scale": {"domain": [0, 1]}, "axis": null}, "text": {"field": "level"}}}
]},

{"width": 24.7, "height": 1, "data": {"values": []}, "mark": {"type": "point", "opacity": 0}, "view": {"stroke": null}},
{"width": 161.6, "height": 93.4, "view": {"fill": "white", "stroke": "#c4c4c4"}, "layer": [
 {"data": {"values": [{"label": "Mesh * Element Type"}]}, "layer": [
  {"mark": {"type": "rule", "color": "#c4c4c4"}, "encoding": {"y": {"datum": 2516, "type": "quantitative", "scale": {"domain": [1231, 2682], "nice": false, "zero": false}, "axis": {"orient": "left", "values": [1500, 2000, 2500], "format": "d", "title": null, "labelFontSize": 11, "labelFontWeight": 600, "labelColor": "#333", "tickSize": 6, "tickColor": "#8c8c8c", "labelPadding": 2, "domain": false, "grid": false}}}},
  {"mark": {"type": "text", "fontSize": 11.5, "fontWeight": 600, "color": "#1a1a1a"}, "encoding": {"y": {"datum": 2599, "type": "quantitative", "scale": {"domain": [1231, 2682], "nice": false, "zero": false}, "axis": {"orient": "left", "values": [1500, 2000, 2500], "format": "d", "title": null, "labelFontSize": 11, "labelFontWeight": 600, "labelColor": "#333", "tickSize": 6, "tickColor": "#8c8c8c", "labelPadding": 2, "domain": false, "grid": false}}, "text": {"field": "label"}}}]},
 {"data": {"name": "twoway"}, "transform": [{"filter": "datum.pair === 'MX'"}],
  "encoding": {"x": {"field": "a", "type": "ordinal", "scale": {"type": "point", "domain": ["0.2", "0.3"], "padding": 0.5}, "axis": {"orient": "bottom", "title": "Mesh", "titleFontSize": 13.5, "titleFontWeight": "bold", "titleColor": "#1a1a1a", "titlePadding": 2, "labelAngle": 0, "labelFontSize": 11, "labelFontWeight": 600, "labelColor": "#333", "tickSize": 5, "tickColor": "#8c8c8c", "labelPadding": 1, "domain": false, "grid": false}},
   "y": {"field": "mean", "type": "quantitative", "scale": {"domain": [1231, 2682], "nice": false, "zero": false}, "axis": {"orient": "left", "values": [1500, 2000, 2500], "format": "d", "title": null, "labelFontSize": 11, "labelFontWeight": 600, "labelColor": "#333", "tickSize": 6, "tickColor": "#8c8c8c", "labelPadding": 2, "domain": false, "grid": false}},
   "color": {"field": "b", "type": "nominal", "legend": null, "scale": {"domain": ["0.2","0.3","12.5","25.0","50.0","100.0","0","2","5","Full","Partial","C3D4","C3D8I"], "range": ["#0b4f9e","#9b1b1b","#0b4f9e","#9b1b1b","#138a13","#9b30c8","#0b4f9e","#9b1b1b","#138a13","#0b4f9e","#9b1b1b","#0b4f9e","#9b1b1b"]}}},
  "layer": [
   {"mark": {"type": "line", "strokeWidth": 1, "opacity": 0.7}, "encoding": {"strokeDash": {"field": "b", "type": "nominal", "legend": null, "scale": {"domain": ["0.2","0.3","12.5","25.0","50.0","100.0","0","2","5","Full","Partial","C3D4","C3D8I"], "range": [[1,0],[5,3],[1,0],[5,3],[2,2],[6,2,1,2],[1,0],[5,3],[2,2],[1,0],[5,3],[1,0],[5,3]]}}, "order": {"value": null}}},
   {"mark": {"type": "point", "filled": true, "size": 81, "opacity": 1}, "encoding": {"shape": {"field": "b", "type": "nominal", "legend": null, "scale": {"domain": ["0.2","0.3","12.5","25.0","50.0","100.0","0","2","5","Full","Partial","C3D4","C3D8I"], "range": ["M0.62,0A0.62,0.62 0 1,1 -0.62,0A0.62,0.62 0 1,1 0.62,0Z","M-0.95,-0.95H0.95V0.95H-0.95Z","M0.62,0A0.62,0.62 0 1,1 -0.62,0A0.62,0.62 0 1,1 0.62,0Z","M-0.95,-0.95H0.95V0.95H-0.95Z","M0,-1.2L1.2,0L0,1.2L-1.2,0Z","M0,-1.1L1.15,0.9H-1.15Z","M0.62,0A0.62,0.62 0 1,1 -0.62,0A0.62,0.62 0 1,1 0.62,0Z","M-0.95,-0.95H0.95V0.95H-0.95Z","M0,-1.2L1.2,0L0,1.2L-1.2,0Z","M0.62,0A0.62,0.62 0 1,1 -0.62,0A0.62,0.62 0 1,1 0.62,0Z","M-0.95,-0.95H0.95V0.95H-0.95Z","M0.62,0A0.62,0.62 0 1,1 -0.62,0A0.62,0.62 0 1,1 0.62,0Z","M-0.95,-0.95H0.95V0.95H-0.95Z"]}}}}]}
]},
{"width": 161.6, "height": 93.4, "view": {"fill": "white", "stroke": "#c4c4c4"}, "layer": [
 {"data": {"values": [{"label": "Timestep * Element Type"}]}, "layer": [
  {"mark": {"type": "rule", "color": "#c4c4c4"}, "encoding": {"y": {"datum": 2516, "type": "quantitative", "scale": {"domain": [1231, 2682], "nice": false, "zero": false}, "axis": null}}},
  {"mark": {"type": "text", "fontSize": 11.5, "fontWeight": 600, "color": "#1a1a1a"}, "encoding": {"y": {"datum": 2599, "type": "quantitative", "scale": {"domain": [1231, 2682], "nice": false, "zero": false}, "axis": null}, "text": {"field": "label"}}}]},
 {"data": {"name": "twoway"}, "transform": [{"filter": "datum.pair === 'TX'"}],
  "encoding": {"x": {"field": "a", "type": "ordinal", "scale": {"type": "point", "domain": ["12.5", "25.0", "50.0", "100.0"], "padding": 0.5}, "axis": {"orient": "bottom", "title": "Timestep", "titleFontSize": 13.5, "titleFontWeight": "bold", "titleColor": "#1a1a1a", "titlePadding": 19, "labels": false, "ticks": false, "domain": false, "grid": false}},
   "y": {"field": "mean", "type": "quantitative", "scale": {"domain": [1231, 2682], "nice": false, "zero": false}, "axis": null},
   "color": {"field": "b", "type": "nominal", "legend": null, "scale": {"domain": ["0.2","0.3","12.5","25.0","50.0","100.0","0","2","5","Full","Partial","C3D4","C3D8I"], "range": ["#0b4f9e","#9b1b1b","#0b4f9e","#9b1b1b","#138a13","#9b30c8","#0b4f9e","#9b1b1b","#138a13","#0b4f9e","#9b1b1b","#0b4f9e","#9b1b1b"]}}},
  "layer": [
   {"mark": {"type": "line", "strokeWidth": 1, "opacity": 0.7}, "encoding": {"strokeDash": {"field": "b", "type": "nominal", "legend": null, "scale": {"domain": ["0.2","0.3","12.5","25.0","50.0","100.0","0","2","5","Full","Partial","C3D4","C3D8I"], "range": [[1,0],[5,3],[1,0],[5,3],[2,2],[6,2,1,2],[1,0],[5,3],[2,2],[1,0],[5,3],[1,0],[5,3]]}}, "order": {"value": null}}},
   {"mark": {"type": "point", "filled": true, "size": 81, "opacity": 1}, "encoding": {"shape": {"field": "b", "type": "nominal", "legend": null, "scale": {"domain": ["0.2","0.3","12.5","25.0","50.0","100.0","0","2","5","Full","Partial","C3D4","C3D8I"], "range": ["M0.62,0A0.62,0.62 0 1,1 -0.62,0A0.62,0.62 0 1,1 0.62,0Z","M-0.95,-0.95H0.95V0.95H-0.95Z","M0.62,0A0.62,0.62 0 1,1 -0.62,0A0.62,0.62 0 1,1 0.62,0Z","M-0.95,-0.95H0.95V0.95H-0.95Z","M0,-1.2L1.2,0L0,1.2L-1.2,0Z","M0,-1.1L1.15,0.9H-1.15Z","M0.62,0A0.62,0.62 0 1,1 -0.62,0A0.62,0.62 0 1,1 0.62,0Z","M-0.95,-0.95H0.95V0.95H-0.95Z","M0,-1.2L1.2,0L0,1.2L-1.2,0Z","M0.62,0A0.62,0.62 0 1,1 -0.62,0A0.62,0.62 0 1,1 0.62,0Z","M-0.95,-0.95H0.95V0.95H-0.95Z","M0.62,0A0.62,0.62 0 1,1 -0.62,0A0.62,0.62 0 1,1 0.62,0Z","M-0.95,-0.95H0.95V0.95H-0.95Z"]}}}}]}
]},
{"width": 161.6, "height": 93.4, "view": {"fill": "white", "stroke": "#c4c4c4"}, "layer": [
 {"data": {"values": [{"label": "Expansion TC * Element Type"}]}, "layer": [
  {"mark": {"type": "rule", "color": "#c4c4c4"}, "encoding": {"y": {"datum": 2516, "type": "quantitative", "scale": {"domain": [1231, 2682], "nice": false, "zero": false}, "axis": null}}},
  {"mark": {"type": "text", "fontSize": 11.5, "fontWeight": 600, "color": "#1a1a1a"}, "encoding": {"y": {"datum": 2599, "type": "quantitative", "scale": {"domain": [1231, 2682], "nice": false, "zero": false}, "axis": null}, "text": {"field": "label"}}}]},
 {"data": {"name": "twoway"}, "transform": [{"filter": "datum.pair === 'EX'"}],
  "encoding": {"x": {"field": "a", "type": "ordinal", "scale": {"type": "point", "domain": ["0", "2", "5"], "padding": 0.5}, "axis": {"orient": "bottom", "title": "Expansion TC", "titleFontSize": 13.5, "titleFontWeight": "bold", "titleColor": "#1a1a1a", "titlePadding": 2, "labelAngle": 0, "labelFontSize": 11, "labelFontWeight": 600, "labelColor": "#333", "tickSize": 5, "tickColor": "#8c8c8c", "labelPadding": 1, "domain": false, "grid": false}},
   "y": {"field": "mean", "type": "quantitative", "scale": {"domain": [1231, 2682], "nice": false, "zero": false}, "axis": null},
   "color": {"field": "b", "type": "nominal", "legend": null, "scale": {"domain": ["0.2","0.3","12.5","25.0","50.0","100.0","0","2","5","Full","Partial","C3D4","C3D8I"], "range": ["#0b4f9e","#9b1b1b","#0b4f9e","#9b1b1b","#138a13","#9b30c8","#0b4f9e","#9b1b1b","#138a13","#0b4f9e","#9b1b1b","#0b4f9e","#9b1b1b"]}}},
  "layer": [
   {"mark": {"type": "line", "strokeWidth": 1, "opacity": 0.7}, "encoding": {"strokeDash": {"field": "b", "type": "nominal", "legend": null, "scale": {"domain": ["0.2","0.3","12.5","25.0","50.0","100.0","0","2","5","Full","Partial","C3D4","C3D8I"], "range": [[1,0],[5,3],[1,0],[5,3],[2,2],[6,2,1,2],[1,0],[5,3],[2,2],[1,0],[5,3],[1,0],[5,3]]}}, "order": {"value": null}}},
   {"mark": {"type": "point", "filled": true, "size": 81, "opacity": 1}, "encoding": {"shape": {"field": "b", "type": "nominal", "legend": null, "scale": {"domain": ["0.2","0.3","12.5","25.0","50.0","100.0","0","2","5","Full","Partial","C3D4","C3D8I"], "range": ["M0.62,0A0.62,0.62 0 1,1 -0.62,0A0.62,0.62 0 1,1 0.62,0Z","M-0.95,-0.95H0.95V0.95H-0.95Z","M0.62,0A0.62,0.62 0 1,1 -0.62,0A0.62,0.62 0 1,1 0.62,0Z","M-0.95,-0.95H0.95V0.95H-0.95Z","M0,-1.2L1.2,0L0,1.2L-1.2,0Z","M0,-1.1L1.15,0.9H-1.15Z","M0.62,0A0.62,0.62 0 1,1 -0.62,0A0.62,0.62 0 1,1 0.62,0Z","M-0.95,-0.95H0.95V0.95H-0.95Z","M0,-1.2L1.2,0L0,1.2L-1.2,0Z","M0.62,0A0.62,0.62 0 1,1 -0.62,0A0.62,0.62 0 1,1 0.62,0Z","M-0.95,-0.95H0.95V0.95H-0.95Z","M0.62,0A0.62,0.62 0 1,1 -0.62,0A0.62,0.62 0 1,1 0.62,0Z","M-0.95,-0.95H0.95V0.95H-0.95Z"]}}}}]}
]},
{"width": 161.6, "height": 93.4, "view": {"fill": "white", "stroke": "#c4c4c4"}, "layer": [
 {"data": {"values": [{"label": "Activation * Element Type"}]}, "layer": [
  {"mark": {"type": "rule", "color": "#c4c4c4"}, "encoding": {"y": {"datum": 2516, "type": "quantitative", "scale": {"domain": [1231, 2682], "nice": false, "zero": false}, "axis": null}}},
  {"mark": {"type": "text", "fontSize": 11.5, "fontWeight": 600, "color": "#1a1a1a"}, "encoding": {"y": {"datum": 2599, "type": "quantitative", "scale": {"domain": [1231, 2682], "nice": false, "zero": false}, "axis": null}, "text": {"field": "label"}}}]},
 {"data": {"name": "twoway"}, "transform": [{"filter": "datum.pair === 'AX'"}],
  "encoding": {"x": {"field": "a", "type": "ordinal", "scale": {"type": "point", "domain": ["Full", "Partial"], "padding": 0.5}, "axis": {"orient": "bottom", "title": "Activation", "titleFontSize": 13.5, "titleFontWeight": "bold", "titleColor": "#1a1a1a", "titlePadding": 19, "labels": false, "ticks": false, "domain": false, "grid": false}},
   "y": {"field": "mean", "type": "quantitative", "scale": {"domain": [1231, 2682], "nice": false, "zero": false}, "axis": null},
   "color": {"field": "b", "type": "nominal", "legend": null, "scale": {"domain": ["0.2","0.3","12.5","25.0","50.0","100.0","0","2","5","Full","Partial","C3D4","C3D8I"], "range": ["#0b4f9e","#9b1b1b","#0b4f9e","#9b1b1b","#138a13","#9b30c8","#0b4f9e","#9b1b1b","#138a13","#0b4f9e","#9b1b1b","#0b4f9e","#9b1b1b"]}}},
  "layer": [
   {"mark": {"type": "line", "strokeWidth": 1, "opacity": 0.7}, "encoding": {"strokeDash": {"field": "b", "type": "nominal", "legend": null, "scale": {"domain": ["0.2","0.3","12.5","25.0","50.0","100.0","0","2","5","Full","Partial","C3D4","C3D8I"], "range": [[1,0],[5,3],[1,0],[5,3],[2,2],[6,2,1,2],[1,0],[5,3],[2,2],[1,0],[5,3],[1,0],[5,3]]}}, "order": {"value": null}}},
   {"mark": {"type": "point", "filled": true, "size": 81, "opacity": 1}, "encoding": {"shape": {"field": "b", "type": "nominal", "legend": null, "scale": {"domain": ["0.2","0.3","12.5","25.0","50.0","100.0","0","2","5","Full","Partial","C3D4","C3D8I"], "range": ["M0.62,0A0.62,0.62 0 1,1 -0.62,0A0.62,0.62 0 1,1 0.62,0Z","M-0.95,-0.95H0.95V0.95H-0.95Z","M0.62,0A0.62,0.62 0 1,1 -0.62,0A0.62,0.62 0 1,1 0.62,0Z","M-0.95,-0.95H0.95V0.95H-0.95Z","M0,-1.2L1.2,0L0,1.2L-1.2,0Z","M0,-1.1L1.15,0.9H-1.15Z","M0.62,0A0.62,0.62 0 1,1 -0.62,0A0.62,0.62 0 1,1 0.62,0Z","M-0.95,-0.95H0.95V0.95H-0.95Z","M0,-1.2L1.2,0L0,1.2L-1.2,0Z","M0.62,0A0.62,0.62 0 1,1 -0.62,0A0.62,0.62 0 1,1 0.62,0Z","M-0.95,-0.95H0.95V0.95H-0.95Z","M0.62,0A0.62,0.62 0 1,1 -0.62,0A0.62,0.62 0 1,1 0.62,0Z","M-0.95,-0.95H0.95V0.95H-0.95Z"]}}}}]}
]},
{"width": 161.6, "height": 93.4, "view": {"fill": "#e5e5e5", "stroke": "#c4c4c4"}, "data": {"values": []}, "mark": {"type": "point", "opacity": 0}, "encoding": {"x": {"field": "level", "type": "ordinal", "scale": {"type": "point", "domain": ["C3D4", "C3D8I"], "padding": 0.5}, "axis": {"orient": "bottom", "title": "Element Type", "titleFontSize": 13.5, "titleFontWeight": "bold", "titleColor": "#1a1a1a", "titlePadding": 2, "labelAngle": 0, "labelFontSize": 11, "labelFontWeight": 600, "labelColor": "#333", "tickSize": 5, "tickColor": "#8c8c8c", "labelPadding": 1, "domain": false, "grid": false}}}},
{"width": 141, "height": 45, "view": {"stroke": null}, "layer": [
 {"data": {"values": [{"box": "Element Type"}]}, "mark": {"type": "rect", "fill": "white", "stroke": "#c4c4c4", "strokeWidth": 1}, "encoding": {"x": {"datum": 0.33, "type": "quantitative", "scale": {"domain": [0, 1]}, "axis": null}, "x2": {"datum": 1}}},
 {"data": {"values": [{"level": "C3D4"}, {"level": "C3D8I"}]}, "encoding": {"y": {"field": "level", "type": "ordinal", "scale": {"type": "point", "domain": ["Element", "Type", "C3D4", "C3D8I"], "padding": 0.72}, "axis": null}},
  "layer": [
   {"mark": {"type": "rule", "strokeWidth": 1, "opacity": 0.8}, "encoding": {"x": {"datum": 0.35, "type": "quantitative", "scale": {"domain": [0, 1]}, "axis": null}, "x2": {"datum": 0.54}, "color": {"field": "level", "type": "nominal", "legend": null, "scale": {"domain": ["0.2","0.3","12.5","25.0","50.0","100.0","0","2","5","Full","Partial","C3D4","C3D8I"], "range": ["#0b4f9e","#9b1b1b","#0b4f9e","#9b1b1b","#138a13","#9b30c8","#0b4f9e","#9b1b1b","#138a13","#0b4f9e","#9b1b1b","#0b4f9e","#9b1b1b"]}}, "strokeDash": {"field": "level", "type": "nominal", "legend": null, "scale": {"domain": ["0.2","0.3","12.5","25.0","50.0","100.0","0","2","5","Full","Partial","C3D4","C3D8I"], "range": [[1,0],[5,3],[1,0],[5,3],[2,2],[6,2,1,2],[1,0],[5,3],[2,2],[1,0],[5,3],[1,0],[5,3]]}}}},
   {"mark": {"type": "point", "filled": true, "size": 64, "opacity": 1}, "encoding": {"x": {"datum": 0.445, "type": "quantitative", "scale": {"domain": [0, 1]}, "axis": null}, "color": {"field": "level", "type": "nominal", "legend": null, "scale": {"domain": ["0.2","0.3","12.5","25.0","50.0","100.0","0","2","5","Full","Partial","C3D4","C3D8I"], "range": ["#0b4f9e","#9b1b1b","#0b4f9e","#9b1b1b","#138a13","#9b30c8","#0b4f9e","#9b1b1b","#138a13","#0b4f9e","#9b1b1b","#0b4f9e","#9b1b1b"]}}, "shape": {"field": "level", "type": "nominal", "legend": null, "scale": {"domain": ["0.2","0.3","12.5","25.0","50.0","100.0","0","2","5","Full","Partial","C3D4","C3D8I"], "range": ["M0.62,0A0.62,0.62 0 1,1 -0.62,0A0.62,0.62 0 1,1 0.62,0Z","M-0.95,-0.95H0.95V0.95H-0.95Z","M0.62,0A0.62,0.62 0 1,1 -0.62,0A0.62,0.62 0 1,1 0.62,0Z","M-0.95,-0.95H0.95V0.95H-0.95Z","M0,-1.2L1.2,0L0,1.2L-1.2,0Z","M0,-1.1L1.15,0.9H-1.15Z","M0.62,0A0.62,0.62 0 1,1 -0.62,0A0.62,0.62 0 1,1 0.62,0Z","M-0.95,-0.95H0.95V0.95H-0.95Z","M0,-1.2L1.2,0L0,1.2L-1.2,0Z","M0.62,0A0.62,0.62 0 1,1 -0.62,0A0.62,0.62 0 1,1 0.62,0Z","M-0.95,-0.95H0.95V0.95H-0.95Z","M0.62,0A0.62,0.62 0 1,1 -0.62,0A0.62,0.62 0 1,1 0.62,0Z","M-0.95,-0.95H0.95V0.95H-0.95Z"]}}}},
   {"mark": {"type": "text", "align": "left", "fontSize": 9, "fontWeight": 600, "color": "#222"}, "encoding": {"x": {"datum": 0.577, "type": "quantitative", "scale": {"domain": [0, 1]}, "axis": null}, "text": {"field": "level"}}}]},
 {"data": {"values": [{"level": "Element"}, {"level": "Type"}]}, "mark": {"type": "text", "align": "left", "fontSize": 9, "fontWeight": "bold", "color": "#222"}, "encoding": {"y": {"field": "level", "type": "ordinal", "scale": {"type": "point", "domain": ["Element", "Type", "C3D4", "C3D8I"], "padding": 0.72}, "axis": null}, "x": {"datum": 0.577, "type": "quantitative", "scale": {"domain": [0, 1]}, "axis": null}, "text": {"field": "level"}}}
]}
]
}
]
}
]
}
